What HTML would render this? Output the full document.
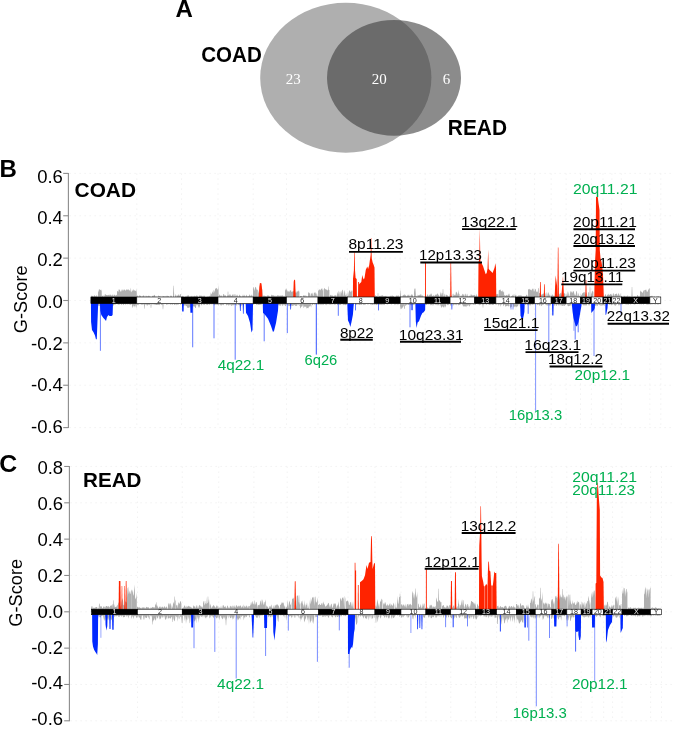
<!DOCTYPE html>
<html><head><meta charset="utf-8"><style>
html,body{margin:0;padding:0;background:#fff;}
body{width:685px;height:731px;overflow:hidden;}
svg{display:block;font-family:"Liberation Sans", sans-serif;transform:translateZ(0);}
</style></head><body>
<svg width="685" height="731" viewBox="0 0 685 731">

<ellipse cx="345.8" cy="77.8" rx="85.6" ry="75" fill="#afafaf"/>
<ellipse cx="394" cy="77.8" rx="67" ry="57.9" fill="#3c3c3c" fill-opacity="0.595"/>
<text x="293.3" y="84" font-size="15" font-family="'Liberation Serif', serif" fill="#fff" text-anchor="middle">23</text>
<text x="379.2" y="84" font-size="15" font-family="'Liberation Serif', serif" fill="#fff" text-anchor="middle">20</text>
<text x="446.5" y="84" font-size="15" font-family="'Liberation Serif', serif" fill="#fff" text-anchor="middle">6</text>
<text x="175.4" y="16.9" font-size="24" font-weight="bold">A</text>
<text x="201.2" y="62.4" font-size="22.2" font-weight="bold" textLength="60.6" lengthAdjust="spacingAndGlyphs">COAD</text>
<text x="447.8" y="134.9" font-size="22.2" font-weight="bold" textLength="59.2" lengthAdjust="spacingAndGlyphs">READ</text>

<line x1="69.4" y1="173.40" x2="672" y2="173.40" stroke="#f0f0f0" stroke-width="0.9" stroke-dasharray="1.5,3.5"/>
<line x1="69.4" y1="215.77" x2="672" y2="215.77" stroke="#f0f0f0" stroke-width="0.9" stroke-dasharray="1.5,3.5"/>
<line x1="69.4" y1="258.13" x2="672" y2="258.13" stroke="#f0f0f0" stroke-width="0.9" stroke-dasharray="1.5,3.5"/>
<line x1="69.4" y1="300.50" x2="672" y2="300.50" stroke="#f0f0f0" stroke-width="0.9" stroke-dasharray="1.5,3.5"/>
<line x1="69.4" y1="342.87" x2="672" y2="342.87" stroke="#f0f0f0" stroke-width="0.9" stroke-dasharray="1.5,3.5"/>
<line x1="69.4" y1="385.23" x2="672" y2="385.23" stroke="#f0f0f0" stroke-width="0.9" stroke-dasharray="1.5,3.5"/>
<line x1="69.4" y1="427.60" x2="672" y2="427.60" stroke="#f0f0f0" stroke-width="0.9" stroke-dasharray="1.5,3.5"/>
<line x1="136.79" y1="173.40" x2="136.79" y2="427.60" stroke="#f0f0f0" stroke-width="0.9" stroke-dasharray="1.5,3.5"/>
<line x1="181.56" y1="173.40" x2="181.56" y2="427.60" stroke="#f0f0f0" stroke-width="0.9" stroke-dasharray="1.5,3.5"/>
<line x1="218.01" y1="173.40" x2="218.01" y2="427.60" stroke="#f0f0f0" stroke-width="0.9" stroke-dasharray="1.5,3.5"/>
<line x1="253.20" y1="173.40" x2="253.20" y2="427.60" stroke="#f0f0f0" stroke-width="0.9" stroke-dasharray="1.5,3.5"/>
<line x1="286.51" y1="173.40" x2="286.51" y2="427.60" stroke="#f0f0f0" stroke-width="0.9" stroke-dasharray="1.5,3.5"/>
<line x1="318.01" y1="173.40" x2="318.01" y2="427.60" stroke="#f0f0f0" stroke-width="0.9" stroke-dasharray="1.5,3.5"/>
<line x1="347.31" y1="173.40" x2="347.31" y2="427.60" stroke="#f0f0f0" stroke-width="0.9" stroke-dasharray="1.5,3.5"/>
<line x1="374.25" y1="173.40" x2="374.25" y2="427.60" stroke="#f0f0f0" stroke-width="0.9" stroke-dasharray="1.5,3.5"/>
<line x1="400.25" y1="173.40" x2="400.25" y2="427.60" stroke="#f0f0f0" stroke-width="0.9" stroke-dasharray="1.5,3.5"/>
<line x1="425.20" y1="173.40" x2="425.20" y2="427.60" stroke="#f0f0f0" stroke-width="0.9" stroke-dasharray="1.5,3.5"/>
<line x1="450.05" y1="173.40" x2="450.05" y2="427.60" stroke="#f0f0f0" stroke-width="0.9" stroke-dasharray="1.5,3.5"/>
<line x1="474.70" y1="173.40" x2="474.70" y2="427.60" stroke="#f0f0f0" stroke-width="0.9" stroke-dasharray="1.5,3.5"/>
<line x1="495.90" y1="173.40" x2="495.90" y2="427.60" stroke="#f0f0f0" stroke-width="0.9" stroke-dasharray="1.5,3.5"/>
<line x1="515.66" y1="173.40" x2="515.66" y2="427.60" stroke="#f0f0f0" stroke-width="0.9" stroke-dasharray="1.5,3.5"/>
<line x1="534.54" y1="173.40" x2="534.54" y2="427.60" stroke="#f0f0f0" stroke-width="0.9" stroke-dasharray="1.5,3.5"/>
<line x1="551.17" y1="173.40" x2="551.17" y2="427.60" stroke="#f0f0f0" stroke-width="0.9" stroke-dasharray="1.5,3.5"/>
<line x1="566.12" y1="173.40" x2="566.12" y2="427.60" stroke="#f0f0f0" stroke-width="0.9" stroke-dasharray="1.5,3.5"/>
<line x1="580.49" y1="173.40" x2="580.49" y2="427.60" stroke="#f0f0f0" stroke-width="0.9" stroke-dasharray="1.5,3.5"/>
<line x1="591.38" y1="173.40" x2="591.38" y2="427.60" stroke="#f0f0f0" stroke-width="0.9" stroke-dasharray="1.5,3.5"/>
<line x1="602.98" y1="173.40" x2="602.98" y2="427.60" stroke="#f0f0f0" stroke-width="0.9" stroke-dasharray="1.5,3.5"/>
<line x1="611.84" y1="173.40" x2="611.84" y2="427.60" stroke="#f0f0f0" stroke-width="0.9" stroke-dasharray="1.5,3.5"/>
<line x1="621.29" y1="173.40" x2="621.29" y2="427.60" stroke="#f0f0f0" stroke-width="0.9" stroke-dasharray="1.5,3.5"/>
<line x1="649.87" y1="173.40" x2="649.87" y2="427.60" stroke="#f0f0f0" stroke-width="0.9" stroke-dasharray="1.5,3.5"/>
<line x1="660.80" y1="173.40" x2="660.80" y2="427.60" stroke="#f0f0f0" stroke-width="0.9" stroke-dasharray="1.5,3.5"/>
<line x1="68.4" y1="172.90" x2="68.4" y2="428.10" stroke="#8c8c8c" stroke-width="1.1"/>
<line x1="63.2" y1="173.40" x2="68.4" y2="173.40" stroke="#8c8c8c" stroke-width="1.1"/>
<text x="62.9" y="182.60" font-size="18.5" text-anchor="end" fill="#000">0.6</text>
<line x1="63.2" y1="215.77" x2="68.4" y2="215.77" stroke="#8c8c8c" stroke-width="1.1"/>
<text x="62.9" y="224.33" font-size="18.5" text-anchor="end" fill="#000">0.4</text>
<line x1="63.2" y1="258.13" x2="68.4" y2="258.13" stroke="#8c8c8c" stroke-width="1.1"/>
<text x="62.9" y="266.06" font-size="18.5" text-anchor="end" fill="#000">0.2</text>
<line x1="63.2" y1="300.50" x2="68.4" y2="300.50" stroke="#8c8c8c" stroke-width="1.1"/>
<text x="62.9" y="307.79" font-size="18.5" text-anchor="end" fill="#000">0.0</text>
<line x1="63.2" y1="342.87" x2="68.4" y2="342.87" stroke="#8c8c8c" stroke-width="1.1"/>
<text x="62.9" y="349.52" font-size="18.5" text-anchor="end" fill="#000">-0.2</text>
<line x1="63.2" y1="385.23" x2="68.4" y2="385.23" stroke="#8c8c8c" stroke-width="1.1"/>
<text x="62.9" y="391.25" font-size="18.5" text-anchor="end" fill="#000">-0.4</text>
<line x1="63.2" y1="427.60" x2="68.4" y2="427.60" stroke="#8c8c8c" stroke-width="1.1"/>
<text x="62.9" y="432.98" font-size="18.5" text-anchor="end" fill="#000">-0.6</text>
<path d="M91.00,300.4 L91.00,296.86 L91.60,295.59 L92.20,296.06 L92.80,295.78 L93.40,296.88 L94.00,295.47 L94.60,295.14 L95.20,296.16 L95.80,296.62 L96.40,294.86 L97.00,297.23 L97.60,295.31 L97.60,300.4 Z" fill="#afafaf"/>
<path d="M98.00,300.4 L98.00,289.02 L98.60,292.42 L99.20,289.37 L99.80,289.89 L100.40,290.09 L101.00,290.18 L101.60,290.70 L101.60,300.4 Z" fill="#afafaf"/>
<path d="M102.00,300.4 L102.00,296.18 L102.60,295.74 L103.20,295.00 L103.80,297.24 L104.40,296.10 L105.00,294.08 L105.60,294.46 L106.20,294.96 L106.80,294.97 L107.40,295.28 L108.00,294.88 L108.60,294.65 L109.20,295.60 L109.80,294.39 L110.40,294.75 L111.00,294.77 L111.60,295.66 L112.20,295.51 L112.80,294.35 L113.40,296.57 L114.00,294.15 L114.60,295.00 L115.20,295.33 L115.80,295.80 L116.40,295.11 L117.00,294.85 L117.00,300.4 Z" fill="#afafaf"/>
<path d="M117.00,300.4 L117.00,291.48 L117.60,290.83 L118.20,292.35 L118.80,289.13 L119.40,289.59 L120.00,290.33 L120.60,291.77 L121.20,291.57 L121.80,289.39 L122.40,289.48 L123.00,291.17 L123.60,289.69 L124.20,289.24 L124.80,290.09 L125.40,290.43 L126.00,290.55 L126.60,289.08 L127.20,290.29 L127.80,289.15 L128.40,289.23 L129.00,290.43 L129.60,290.12 L130.20,291.83 L130.80,287.45 L131.40,292.49 L132.00,291.29 L132.60,290.56 L133.20,288.90 L133.80,290.77 L134.40,290.01 L135.00,290.99 L135.60,291.12 L136.20,289.17 L136.80,292.38 L136.80,300.4 Z" fill="#afafaf"/>
<path d="M137.00,300.4 L137.00,295.83 L137.60,295.54 L138.20,295.63 L138.80,297.22 L139.40,295.30 L140.00,295.37 L140.60,296.11 L141.20,295.97 L141.80,297.29 L142.40,296.50 L143.00,295.59 L143.60,295.54 L144.20,295.84 L144.80,297.37 L145.40,296.67 L146.00,295.24 L146.60,296.48 L147.20,295.98 L147.80,296.68 L148.40,295.71 L149.00,295.38 L149.60,296.33 L150.20,296.83 L150.80,296.46 L151.40,297.36 L152.00,296.38 L152.60,295.50 L153.20,296.42 L153.80,295.26 L154.40,294.72 L155.00,295.61 L155.60,297.27 L156.20,296.32 L156.80,297.30 L157.40,296.74 L158.00,296.70 L158.60,295.32 L159.20,296.36 L159.80,296.01 L160.40,296.94 L161.00,295.54 L161.60,297.18 L162.20,296.99 L162.80,295.85 L163.40,296.37 L164.00,295.97 L164.60,296.42 L165.20,297.03 L165.80,295.72 L166.40,296.64 L167.00,295.24 L167.60,296.24 L168.20,295.88 L168.80,296.14 L169.40,297.11 L170.00,297.20 L170.60,295.47 L171.20,295.64 L171.80,295.82 L171.80,300.4 Z" fill="#afafaf"/>
<path d="M175.00,300.4 L175.00,294.07 L175.60,295.04 L176.20,297.38 L176.80,295.09 L177.40,295.44 L178.00,295.83 L178.60,294.26 L179.20,294.87 L179.80,296.16 L180.40,294.04 L181.00,294.05 L181.00,300.4 Z" fill="#afafaf"/>
<path d="M182.00,300.4 L182.00,296.41 L182.60,295.78 L183.20,295.99 L183.80,297.10 L184.40,297.18 L185.00,297.06 L185.60,296.20 L186.20,296.89 L186.80,295.82 L187.40,295.91 L188.00,294.71 L188.60,295.44 L189.20,296.84 L189.80,296.44 L190.40,296.74 L191.00,295.80 L191.60,295.97 L192.20,297.10 L192.80,295.73 L193.40,296.43 L194.00,296.14 L194.60,295.54 L195.20,296.59 L195.80,296.01 L196.40,295.65 L197.00,295.25 L197.60,296.21 L198.20,296.82 L198.80,297.17 L199.40,295.59 L200.00,295.41 L200.60,295.71 L201.20,295.91 L201.80,295.47 L202.40,296.10 L203.00,297.09 L203.60,295.79 L204.20,295.50 L204.80,296.28 L205.40,297.25 L206.00,296.77 L206.60,297.10 L207.20,296.88 L207.80,296.27 L208.40,297.03 L209.00,295.96 L209.00,300.4 Z" fill="#afafaf"/>
<path d="M209.00,300.4 L209.00,295.61 L209.60,296.21 L210.20,296.50 L210.80,292.34 L211.40,293.69 L212.00,294.49 L212.00,300.4 Z" fill="#afafaf"/>
<path d="M212.00,300.4 L212.00,291.05 L212.60,292.31 L213.20,293.15 L213.80,289.74 L214.40,290.75 L215.00,292.86 L215.00,300.4 Z" fill="#afafaf"/>
<path d="M215.00,300.4 L215.00,288.75 L215.60,288.72 L216.20,287.82 L216.80,288.43 L217.40,288.96 L218.00,290.21 L218.60,284.62 L218.60,300.4 Z" fill="#afafaf"/>
<path d="M219.00,300.4 L219.00,295.49 L219.60,294.24 L220.20,295.32 L220.80,296.38 L221.40,294.99 L222.00,296.76 L222.60,296.78 L223.20,294.17 L223.80,294.11 L224.40,294.92 L225.00,296.26 L225.60,294.73 L226.20,296.36 L226.80,297.11 L227.40,295.52 L228.00,295.29 L228.60,295.35 L229.20,295.47 L229.80,294.07 L230.40,294.45 L231.00,295.91 L231.60,296.00 L232.20,294.63 L232.80,294.43 L233.40,294.16 L234.00,297.38 L234.60,294.28 L235.20,294.11 L235.80,296.87 L236.40,294.60 L237.00,296.80 L237.60,294.15 L238.20,296.65 L238.80,296.56 L239.40,294.55 L240.00,295.18 L240.60,296.35 L241.20,296.60 L241.80,296.66 L242.40,296.27 L243.00,294.13 L243.60,295.95 L244.20,296.28 L244.80,294.41 L245.40,296.73 L246.00,296.27 L246.60,294.62 L247.20,295.98 L247.80,296.78 L248.40,296.16 L249.00,295.73 L249.60,294.16 L250.20,295.14 L250.80,296.38 L251.40,294.28 L252.00,296.14 L252.60,294.70 L252.60,300.4 Z" fill="#afafaf"/>
<path d="M253.00,300.4 L253.00,287.77 L253.60,286.85 L254.20,290.92 L254.80,288.85 L255.40,286.75 L256.00,287.36 L256.60,289.68 L257.20,289.56 L257.80,290.37 L257.80,300.4 Z" fill="#afafaf"/>
<path d="M258.00,300.4 L258.00,293.65 L258.60,289.99 L259.20,294.43 L259.80,294.87 L260.40,289.62 L261.00,291.20 L261.60,293.29 L262.20,288.87 L262.80,296.90 L262.80,300.4 Z" fill="#afafaf"/>
<path d="M263.00,300.4 L263.00,296.82 L263.60,295.35 L264.20,296.29 L264.80,295.18 L265.40,296.20 L266.00,295.96 L266.60,296.78 L267.20,294.83 L267.80,296.32 L268.40,295.40 L269.00,295.58 L269.60,296.62 L270.20,296.76 L270.80,296.92 L271.40,294.68 L272.00,294.66 L272.60,295.45 L273.20,295.28 L273.80,295.49 L274.40,296.57 L275.00,294.89 L275.60,296.52 L276.20,296.45 L276.80,295.70 L277.40,295.00 L278.00,295.98 L278.60,295.16 L279.20,295.64 L279.80,295.75 L280.40,295.62 L281.00,295.74 L281.60,295.48 L282.20,295.76 L282.80,294.91 L283.40,296.99 L284.00,295.24 L284.60,297.23 L285.20,294.75 L285.80,296.08 L285.80,300.4 Z" fill="#afafaf"/>
<path d="M285.00,300.4 L285.00,288.31 L285.60,290.72 L286.20,288.24 L286.80,290.34 L287.40,290.40 L288.00,292.26 L288.60,290.80 L289.20,292.18 L289.80,290.40 L290.40,290.56 L291.00,290.23 L291.60,292.30 L292.20,291.64 L292.80,291.20 L293.40,291.19 L294.00,290.97 L294.60,290.38 L295.20,291.42 L295.80,293.34 L296.40,292.53 L297.00,290.84 L297.60,292.09 L298.20,290.32 L298.80,291.62 L299.40,291.49 L299.40,300.4 Z" fill="#afafaf"/>
<path d="M300.00,300.4 L300.00,296.05 L300.60,295.90 L301.20,295.92 L301.80,296.33 L302.40,297.29 L303.00,296.12 L303.60,295.16 L304.20,295.06 L304.80,296.34 L305.40,295.02 L306.00,297.18 L306.60,295.41 L307.20,296.43 L307.80,296.33 L307.80,300.4 Z" fill="#afafaf"/>
<path d="M308.00,300.4 L308.00,293.83 L308.60,291.92 L309.20,292.72 L309.80,293.18 L310.40,296.95 L311.00,292.81 L311.60,293.92 L312.20,292.39 L312.80,294.42 L313.40,296.59 L314.00,292.27 L314.60,292.99 L315.20,291.94 L315.80,293.74 L316.40,293.28 L317.00,296.42 L317.60,294.06 L317.60,300.4 Z" fill="#afafaf"/>
<path d="M318.00,300.4 L318.00,290.96 L318.60,290.21 L319.20,289.56 L319.80,289.60 L320.40,290.54 L321.00,288.79 L321.60,288.85 L322.20,288.18 L322.80,290.69 L323.40,288.64 L323.40,300.4 Z" fill="#afafaf"/>
<path d="M324.00,300.4 L324.00,287.82 L324.60,288.49 L325.20,289.07 L325.80,289.59 L326.40,289.74 L327.00,289.39 L327.60,290.67 L328.20,289.48 L328.80,290.07 L329.40,290.07 L329.40,300.4 Z" fill="#afafaf"/>
<path d="M330.00,300.4 L330.00,294.82 L330.60,295.11 L331.20,296.33 L331.80,294.83 L332.40,295.53 L333.00,295.92 L333.60,296.84 L334.20,294.74 L334.80,296.48 L335.40,294.82 L336.00,295.88 L336.60,295.03 L336.60,300.4 Z" fill="#afafaf"/>
<path d="M337.00,300.4 L337.00,295.15 L337.60,291.63 L338.20,294.69 L338.80,290.57 L339.40,292.48 L340.00,297.26 L340.60,291.95 L341.20,290.65 L341.80,293.83 L342.40,289.48 L343.00,290.17 L343.60,296.65 L344.20,292.53 L344.80,289.73 L345.40,295.25 L346.00,295.55 L346.60,292.84 L346.60,300.4 Z" fill="#afafaf"/>
<path d="M347.00,300.4 L347.00,290.26 L347.60,296.87 L348.20,295.15 L348.80,291.95 L349.40,290.62 L350.00,290.25 L350.60,292.25 L351.20,291.75 L351.80,290.17 L352.40,290.66 L352.40,300.4 Z" fill="#afafaf"/>
<path d="M375.00,300.4 L375.00,295.33 L375.60,295.38 L376.20,295.89 L376.80,296.00 L377.40,296.71 L378.00,296.64 L378.60,297.24 L379.20,295.68 L379.80,296.03 L380.40,296.07 L381.00,295.56 L381.60,295.77 L382.20,295.26 L382.80,295.60 L383.40,295.92 L384.00,296.43 L384.60,296.10 L385.20,295.89 L385.80,295.80 L386.40,296.75 L387.00,295.51 L387.60,296.92 L388.20,297.17 L388.80,295.92 L389.40,296.39 L390.00,296.48 L390.60,295.57 L391.20,296.55 L391.80,295.56 L392.40,295.48 L393.00,295.97 L393.60,295.88 L394.20,296.78 L394.80,297.11 L395.40,297.24 L396.00,295.72 L396.60,295.52 L397.20,295.98 L397.80,295.62 L398.40,295.25 L399.00,296.71 L399.60,296.12 L399.60,300.4 Z" fill="#afafaf"/>
<path d="M400.00,300.4 L400.00,294.77 L400.60,296.39 L401.20,296.34 L401.80,296.77 L402.40,296.51 L403.00,294.74 L403.60,295.52 L404.20,294.09 L404.80,295.30 L405.40,294.70 L406.00,295.95 L406.60,296.81 L407.20,294.44 L407.80,295.88 L408.40,295.23 L409.00,294.32 L409.60,295.91 L410.20,296.88 L410.80,294.89 L411.40,294.50 L412.00,294.40 L412.60,294.69 L413.20,296.76 L413.80,296.50 L413.80,300.4 Z" fill="#afafaf"/>
<path d="M414.00,300.4 L414.00,292.52 L414.60,288.83 L415.20,288.63 L415.80,296.34 L415.80,300.4 Z" fill="#afafaf"/>
<path d="M416.00,300.4 L416.00,295.15 L416.60,296.49 L417.20,297.03 L417.80,294.54 L418.40,295.29 L419.00,295.39 L419.60,294.67 L420.20,294.95 L420.80,294.02 L421.40,294.76 L422.00,296.74 L422.60,294.96 L423.20,296.04 L423.80,297.16 L424.40,296.23 L424.40,300.4 Z" fill="#afafaf"/>
<path d="M425.00,300.4 L425.00,294.94 L425.60,294.17 L426.20,296.91 L426.80,295.86 L427.40,294.51 L428.00,294.28 L428.60,296.87 L429.20,295.14 L429.80,294.45 L430.40,294.70 L431.00,293.25 L431.60,294.12 L432.20,296.13 L432.80,295.84 L433.40,294.79 L434.00,296.74 L434.60,295.96 L435.20,294.23 L435.80,295.26 L436.40,294.78 L437.00,294.07 L437.60,293.32 L438.20,294.60 L438.80,295.14 L439.40,295.94 L439.40,300.4 Z" fill="#afafaf"/>
<path d="M440.00,300.4 L440.00,295.55 L440.60,291.47 L441.20,295.33 L441.80,292.78 L442.40,292.98 L443.00,295.35 L443.60,296.71 L444.20,295.76 L444.80,293.61 L445.40,295.37 L445.40,300.4 Z" fill="#afafaf"/>
<path d="M446.00,300.4 L446.00,295.21 L446.60,294.44 L447.20,295.32 L447.80,295.60 L448.40,296.72 L449.00,296.23 L449.60,294.07 L449.60,300.4 Z" fill="#afafaf"/>
<path d="M450.00,300.4 L450.00,294.86 L450.60,297.06 L451.20,296.09 L451.80,295.35 L452.40,293.52 L452.40,300.4 Z" fill="#afafaf"/>
<path d="M453.00,300.4 L453.00,297.04 L453.60,293.27 L454.20,295.41 L454.80,294.55 L455.40,295.32 L456.00,291.45 L456.60,292.27 L457.20,293.13 L457.80,295.52 L458.40,289.80 L459.00,294.84 L459.60,293.48 L459.60,300.4 Z" fill="#afafaf"/>
<path d="M460.00,300.4 L460.00,296.75 L460.60,295.70 L461.20,295.01 L461.80,296.62 L462.40,293.93 L463.00,293.64 L463.60,294.96 L464.20,294.19 L464.80,297.25 L465.40,293.93 L466.00,293.62 L466.60,296.72 L467.20,293.55 L467.80,296.05 L468.40,296.81 L469.00,295.51 L469.60,295.68 L470.20,296.28 L470.80,294.24 L471.40,294.74 L472.00,294.71 L472.60,295.60 L473.20,295.34 L473.80,295.25 L474.40,295.07 L475.00,295.18 L475.60,296.67 L476.20,293.74 L476.80,295.71 L477.40,295.85 L477.40,300.4 Z" fill="#afafaf"/>
<path d="M496.00,300.4 L496.00,294.76 L496.60,294.01 L497.20,294.50 L497.80,293.74 L498.40,294.50 L498.40,300.4 Z" fill="#afafaf"/>
<path d="M498.70,300.4 L498.70,290.83 L499.30,289.89 L499.90,289.78 L500.50,289.60 L501.10,291.60 L501.70,290.89 L502.30,291.73 L502.90,290.08 L503.50,292.58 L504.10,291.80 L504.10,300.4 Z" fill="#afafaf"/>
<path d="M504.20,300.4 L504.20,295.21 L504.80,294.68 L505.40,296.01 L506.00,295.16 L506.60,294.66 L507.20,296.05 L507.80,294.76 L508.40,294.67 L509.00,293.36 L509.60,294.75 L510.20,297.15 L510.80,296.98 L511.40,295.88 L512.00,296.46 L512.60,294.43 L513.20,296.47 L513.80,294.28 L514.40,294.49 L514.40,300.4 Z" fill="#afafaf"/>
<path d="M515.00,300.4 L515.00,296.13 L515.60,294.72 L516.20,295.06 L516.80,297.39 L517.40,296.36 L518.00,295.87 L518.60,295.60 L519.20,294.98 L519.80,296.09 L520.40,294.86 L521.00,296.76 L521.60,295.11 L522.20,296.55 L522.80,296.14 L523.40,296.61 L524.00,295.98 L524.60,296.71 L525.20,295.90 L525.80,296.48 L526.40,294.78 L527.00,294.76 L527.60,296.40 L527.60,300.4 Z" fill="#afafaf"/>
<path d="M528.00,300.4 L528.00,289.34 L528.60,289.56 L529.20,288.83 L529.80,289.51 L530.40,289.88 L531.00,289.33 L531.60,290.87 L532.20,289.15 L532.80,288.44 L533.40,288.82 L534.00,291.95 L534.60,290.53 L535.20,288.86 L535.80,289.48 L536.40,292.25 L537.00,291.19 L537.60,292.50 L538.20,288.59 L538.80,287.77 L538.80,300.4 Z" fill="#afafaf"/>
<path d="M539.00,300.4 L539.00,293.28 L539.60,292.90 L540.20,293.02 L540.80,293.42 L541.40,294.73 L542.00,294.81 L542.60,294.06 L543.20,293.54 L543.80,293.40 L544.40,295.97 L545.00,297.15 L545.60,293.76 L546.20,291.93 L546.80,296.98 L547.40,295.26 L548.00,292.19 L548.60,292.70 L549.20,295.68 L549.80,294.34 L550.40,295.18 L550.40,300.4 Z" fill="#afafaf"/>
<path d="M551.00,300.4 L551.00,295.70 L551.60,295.79 L552.20,294.02 L552.80,295.46 L553.40,295.89 L554.00,295.25 L554.60,296.38 L555.20,294.63 L555.80,293.25 L556.40,294.23 L557.00,293.39 L557.60,295.44 L558.20,297.37 L558.80,296.82 L559.40,293.78 L560.00,293.78 L560.60,293.07 L561.20,292.45 L561.80,294.97 L562.40,294.59 L563.00,292.58 L563.60,295.56 L564.20,293.46 L564.80,293.04 L565.40,294.41 L565.40,300.4 Z" fill="#afafaf"/>
<path d="M566.00,300.4 L566.00,293.47 L566.60,296.79 L567.20,290.80 L567.80,295.79 L568.40,291.20 L569.00,296.84 L569.60,295.77 L570.20,292.55 L570.80,290.80 L571.40,292.63 L572.00,290.78 L572.60,293.15 L573.20,291.18 L573.80,291.21 L574.40,294.37 L575.00,295.00 L575.60,295.50 L576.20,291.46 L576.80,290.67 L577.40,295.12 L578.00,296.41 L578.60,292.60 L579.20,296.16 L579.80,295.93 L580.40,293.45 L580.40,300.4 Z" fill="#afafaf"/>
<path d="M581.00,300.4 L581.00,294.24 L581.60,295.63 L582.20,293.17 L582.80,293.30 L583.40,292.41 L584.00,292.18 L584.60,291.91 L585.20,295.72 L585.80,292.45 L586.40,292.78 L587.00,296.54 L587.60,296.83 L588.20,291.90 L588.80,292.44 L588.80,300.4 Z" fill="#afafaf"/>
<path d="M591.00,300.4 L591.00,290.67 L591.60,294.42 L592.20,291.46 L592.80,290.60 L593.40,292.37 L593.40,300.4 Z" fill="#afafaf"/>
<path d="M604.00,300.4 L604.00,296.94 L604.60,296.25 L605.20,294.01 L605.80,294.82 L606.40,297.12 L607.00,295.15 L607.60,294.46 L608.20,294.90 L608.80,293.39 L609.40,295.14 L610.00,294.59 L610.60,293.66 L611.20,294.61 L611.80,294.57 L612.40,296.77 L613.00,293.43 L613.60,293.27 L614.20,296.49 L614.80,294.32 L615.40,293.98 L616.00,294.18 L616.60,293.24 L617.20,294.53 L617.80,296.12 L618.40,292.69 L619.00,294.29 L619.60,296.02 L620.20,293.01 L620.80,296.42 L620.80,300.4 Z" fill="#afafaf"/>
<path d="M621.00,300.4 L621.00,296.23 L621.60,295.43 L622.20,296.44 L622.80,296.79 L623.40,296.80 L624.00,295.23 L624.60,296.29 L625.20,295.71 L625.80,297.05 L626.40,295.84 L627.00,297.06 L627.60,295.28 L628.20,295.83 L628.80,297.19 L629.40,296.10 L630.00,296.72 L630.60,296.37 L630.60,300.4 Z" fill="#afafaf"/>
<path d="M633.00,300.4 L633.00,296.29 L633.60,296.92 L634.20,296.85 L634.80,296.26 L635.40,296.18 L636.00,297.13 L636.60,296.72 L637.20,295.17 L637.80,294.94 L638.40,296.95 L639.00,295.25 L639.60,296.59 L639.60,300.4 Z" fill="#afafaf"/>
<path d="M640.00,300.4 L640.00,290.32 L640.60,291.13 L641.20,292.31 L641.80,291.15 L642.40,293.24 L643.00,291.97 L643.60,290.44 L644.20,290.24 L644.80,290.12 L644.80,300.4 Z" fill="#afafaf"/>
<path d="M645.00,300.4 L645.00,290.14 L645.60,289.70 L646.20,289.47 L646.80,291.87 L647.40,292.02 L648.00,290.54 L648.60,289.59 L649.20,288.01 L649.80,289.25 L649.80,300.4 Z" fill="#afafaf"/>
<path d="M650.00,300.4 L650.00,296.34 L650.60,296.13 L651.20,295.86 L651.80,296.07 L652.40,295.83 L653.00,297.06 L653.60,296.85 L654.20,295.96 L654.80,296.85 L655.40,297.17 L656.00,296.95 L656.60,296.15 L657.20,296.64 L657.80,295.97 L658.40,296.21 L659.00,296.31 L659.60,297.00 L660.20,296.92 L660.80,296.00 L660.80,300.4 Z" fill="#afafaf"/>
<path d="M172.90,300.4 L172.90,300.40 L173.40,285.70 L173.80,285.70 L174.30,300.40 L174.30,300.4 Z" fill="#afafaf"/>
<path d="M227.30,300.4 L227.30,300.40 L227.80,291.50 L228.20,291.50 L228.70,300.40 L228.70,300.4 Z" fill="#afafaf"/>
<path d="M377.30,300.4 L377.30,300.40 L377.80,293.00 L378.20,293.00 L378.70,300.40 L378.70,300.4 Z" fill="#afafaf"/>
<path d="M399.80,300.4 L399.80,300.40 L400.30,290.40 L400.70,290.40 L401.20,300.40 L401.20,300.4 Z" fill="#afafaf"/>
<path d="M414.30,300.4 L414.30,300.40 L414.80,288.30 L415.20,288.30 L415.70,300.40 L415.70,300.4 Z" fill="#afafaf"/>
<path d="M442.30,300.4 L442.30,300.40 L442.80,289.00 L443.20,289.00 L443.70,300.40 L443.70,300.4 Z" fill="#afafaf"/>
<path d="M631.30,300.4 L631.30,300.40 L631.80,287.00 L632.20,287.00 L632.70,300.40 L632.70,300.4 Z" fill="#afafaf"/>
<path d="M589.30,300.4 L589.30,300.40 L589.80,286.50 L590.20,286.50 L590.70,300.40 L590.70,300.4 Z" fill="#afafaf"/>
<path d="M327.70,300.4 L327.70,300.40 L328.20,286.60 L328.60,286.60 L329.10,300.40 L329.10,300.4 Z" fill="#afafaf"/>
<path d="M98.80,300.4 L98.80,300.40 L99.30,289.00 L99.70,289.00 L100.20,300.40 L100.20,300.4 Z" fill="#afafaf"/>
<path d="M100.30,300.4 L100.30,300.40 L100.80,289.50 L101.20,289.50 L101.70,300.40 L101.70,300.4 Z" fill="#afafaf"/>
<path d="M98.00,300.4 L98.00,304.18 L98.60,305.89 L99.20,305.80 L99.80,305.96 L99.80,300.4 Z" fill="#afafaf"/>
<path d="M113.00,300.4 L113.00,305.05 L113.60,305.76 L114.20,304.82 L114.80,304.22 L115.40,304.41 L116.00,304.22 L116.60,303.78 L117.20,303.84 L117.80,304.60 L118.40,304.50 L119.00,304.68 L119.60,304.74 L119.60,300.4 Z" fill="#afafaf"/>
<path d="M120.00,300.4 L120.00,303.88 L120.60,303.93 L121.20,304.70 L121.80,304.71 L122.40,303.60 L123.00,304.72 L123.60,305.08 L124.20,304.33 L124.80,303.84 L125.40,304.82 L126.00,304.44 L126.60,304.04 L127.20,303.88 L127.80,304.73 L128.40,304.09 L129.00,304.25 L129.60,304.55 L130.20,304.42 L130.80,305.12 L131.40,304.01 L132.00,304.73 L132.00,300.4 Z" fill="#afafaf"/>
<path d="M132.00,300.4 L132.00,308.05 L132.60,307.14 L133.20,305.01 L133.80,306.71 L134.40,305.80 L135.00,307.68 L135.60,304.22 L136.20,308.56 L136.80,305.06 L136.80,300.4 Z" fill="#afafaf"/>
<path d="M137.00,300.4 L137.00,305.19 L137.60,304.88 L138.20,304.25 L138.80,305.38 L139.40,303.93 L140.00,303.81 L140.60,304.25 L141.20,305.06 L141.80,304.35 L142.40,304.72 L143.00,304.39 L143.60,304.59 L144.20,303.95 L144.80,303.77 L145.40,304.98 L146.00,304.10 L146.60,305.14 L147.20,305.23 L147.80,305.44 L148.40,304.79 L149.00,304.61 L149.60,305.13 L150.20,303.95 L150.80,303.59 L151.40,303.88 L152.00,304.72 L152.60,304.02 L153.20,304.99 L153.80,303.69 L154.40,304.86 L155.00,304.61 L155.60,304.86 L156.20,305.03 L156.80,305.05 L157.40,305.03 L158.00,304.57 L158.60,304.97 L159.20,305.13 L159.80,304.51 L160.40,303.75 L161.00,304.67 L161.60,304.71 L162.20,304.63 L162.80,304.74 L163.40,303.48 L164.00,304.02 L164.60,304.25 L165.20,303.73 L165.80,304.06 L166.40,304.97 L167.00,304.15 L167.60,304.54 L168.20,304.58 L168.80,303.99 L169.40,303.69 L170.00,304.63 L170.60,304.61 L171.20,304.52 L171.80,304.03 L172.40,304.94 L173.00,304.15 L173.60,303.85 L174.20,304.94 L174.80,304.73 L175.40,304.63 L176.00,303.56 L176.60,305.51 L177.20,303.95 L177.80,304.97 L178.40,304.81 L179.00,303.48 L179.60,303.81 L180.20,304.52 L180.80,304.99 L180.80,300.4 Z" fill="#afafaf"/>
<path d="M182.00,300.4 L182.00,307.70 L182.60,307.40 L183.20,305.49 L183.80,305.59 L184.40,305.65 L185.00,304.64 L185.60,305.67 L186.20,306.01 L186.80,306.14 L187.40,307.85 L188.00,308.07 L188.60,307.98 L189.20,306.41 L189.80,307.88 L190.40,306.79 L191.00,307.51 L191.60,307.71 L192.20,308.03 L192.80,305.85 L193.40,306.32 L194.00,306.80 L194.60,306.37 L195.20,307.99 L195.80,307.89 L196.40,304.50 L197.00,305.39 L197.60,304.51 L198.20,306.23 L198.80,307.67 L199.40,307.43 L200.00,305.25 L200.00,300.4 Z" fill="#afafaf"/>
<path d="M200.00,300.4 L200.00,304.85 L200.60,303.51 L201.20,305.40 L201.80,304.98 L202.40,303.97 L203.00,304.31 L203.60,304.77 L204.20,304.90 L204.80,304.51 L205.40,304.14 L206.00,303.70 L206.60,304.99 L207.20,304.68 L207.80,304.89 L208.40,303.96 L209.00,304.44 L209.60,304.70 L210.20,304.41 L210.80,303.87 L211.40,304.09 L212.00,305.10 L212.60,303.84 L213.20,303.85 L213.80,305.18 L214.40,305.18 L215.00,304.46 L215.60,304.76 L216.20,304.57 L216.80,304.79 L217.40,304.77 L218.00,304.68 L218.00,300.4 Z" fill="#afafaf"/>
<path d="M218.00,300.4 L218.00,304.31 L218.60,305.77 L219.20,304.85 L219.80,304.00 L220.40,305.38 L221.00,305.08 L221.60,305.66 L222.20,304.47 L222.80,305.07 L223.40,305.35 L224.00,304.61 L224.60,304.07 L225.20,304.05 L225.80,304.30 L226.40,305.57 L227.00,305.11 L227.60,304.42 L228.20,305.43 L228.80,305.34 L229.40,305.33 L230.00,304.27 L230.60,305.11 L231.20,305.65 L231.80,305.77 L232.40,305.25 L233.00,304.88 L233.60,305.60 L234.20,304.54 L234.80,305.11 L235.40,304.88 L236.00,305.35 L236.60,305.71 L237.20,303.52 L237.80,305.36 L238.40,305.12 L239.00,304.64 L239.60,305.23 L240.20,305.67 L240.80,305.58 L241.40,305.64 L242.00,304.70 L242.60,304.77 L243.20,305.78 L243.80,304.74 L244.40,303.98 L245.00,304.20 L245.60,304.67 L245.60,300.4 Z" fill="#afafaf"/>
<path d="M253.00,300.4 L253.00,303.84 L253.60,305.08 L254.20,304.15 L254.80,303.72 L255.40,304.00 L256.00,303.98 L256.60,305.15 L257.20,303.77 L257.80,305.23 L258.40,304.73 L259.00,305.10 L259.60,304.87 L260.20,304.45 L260.80,304.87 L261.40,305.17 L261.40,300.4 Z" fill="#afafaf"/>
<path d="M278.00,300.4 L278.00,304.63 L278.60,305.36 L279.20,305.25 L279.80,305.40 L280.40,305.94 L281.00,304.61 L281.60,304.25 L282.20,306.14 L282.80,305.28 L283.40,304.28 L284.00,305.80 L284.60,304.14 L285.20,306.37 L285.80,305.65 L286.40,305.04 L287.00,303.72 L287.60,304.97 L288.20,305.20 L288.80,306.21 L289.40,305.92 L290.00,305.61 L290.60,306.21 L291.20,305.15 L291.80,305.66 L292.40,305.92 L293.00,305.19 L293.60,305.86 L294.20,304.97 L294.80,305.23 L295.40,306.08 L296.00,305.44 L296.60,305.99 L297.20,305.50 L297.80,303.95 L298.40,304.57 L299.00,305.43 L299.60,306.24 L299.60,300.4 Z" fill="#afafaf"/>
<path d="M300.00,300.4 L300.00,308.44 L300.60,308.01 L301.20,306.57 L301.80,306.85 L302.40,306.27 L303.00,303.96 L303.60,308.36 L304.20,307.24 L304.80,306.31 L305.40,307.36 L306.00,306.00 L306.60,308.67 L307.20,307.83 L307.80,308.35 L308.40,308.25 L309.00,306.24 L309.60,306.43 L310.20,306.63 L310.80,304.90 L311.40,308.02 L311.40,300.4 Z" fill="#afafaf"/>
<path d="M312.00,300.4 L312.00,305.01 L312.60,305.17 L313.20,304.36 L313.80,303.93 L314.40,304.41 L315.00,304.79 L315.60,304.34 L316.20,304.04 L316.80,305.11 L317.40,304.98 L317.40,300.4 Z" fill="#afafaf"/>
<path d="M318.00,300.4 L318.00,304.50 L318.60,304.72 L319.20,305.11 L319.80,303.92 L320.40,304.46 L321.00,305.19 L321.60,304.48 L322.20,304.05 L322.80,305.14 L323.40,304.46 L324.00,304.70 L324.60,303.67 L325.20,304.20 L325.80,305.12 L326.40,305.13 L327.00,303.67 L327.60,304.78 L328.20,303.44 L328.80,304.76 L329.40,304.57 L330.00,304.61 L330.60,304.78 L331.20,304.03 L331.80,304.65 L332.40,303.93 L333.00,304.69 L333.60,303.68 L334.20,304.72 L334.80,304.60 L335.40,304.50 L336.00,304.56 L336.60,303.68 L337.20,304.83 L337.80,305.16 L338.40,304.35 L339.00,304.54 L339.60,305.06 L340.20,304.65 L340.80,304.90 L341.40,303.69 L342.00,304.68 L342.60,304.03 L343.20,304.54 L343.80,305.20 L344.40,304.44 L345.00,304.95 L345.60,305.16 L346.20,304.63 L346.80,305.04 L346.80,300.4 Z" fill="#afafaf"/>
<path d="M355.00,300.4 L355.00,303.56 L355.60,305.23 L356.20,304.61 L356.80,305.08 L357.40,304.20 L358.00,304.52 L358.60,304.42 L359.20,304.48 L359.80,305.25 L360.40,304.29 L361.00,304.92 L361.60,304.76 L362.20,303.92 L362.80,304.15 L363.40,305.17 L364.00,303.95 L364.60,305.10 L365.20,305.05 L365.80,303.90 L366.40,303.93 L367.00,303.72 L367.60,304.78 L368.20,303.80 L368.80,304.70 L369.40,303.86 L370.00,303.78 L370.60,304.79 L371.20,305.14 L371.80,304.00 L372.40,305.10 L373.00,304.97 L373.60,304.30 L374.20,304.74 L374.80,304.91 L374.80,300.4 Z" fill="#afafaf"/>
<path d="M375.00,300.4 L375.00,304.08 L375.60,304.78 L376.20,304.72 L376.80,305.22 L377.40,304.18 L378.00,305.02 L378.60,304.26 L379.20,305.21 L379.80,304.47 L380.40,304.91 L381.00,304.19 L381.60,305.07 L382.20,305.13 L382.80,304.06 L383.40,304.99 L384.00,304.25 L384.60,305.21 L385.20,303.76 L385.80,303.85 L386.40,304.10 L387.00,304.56 L387.60,304.50 L388.20,303.86 L388.80,304.25 L389.40,303.72 L390.00,304.03 L390.60,303.73 L391.20,304.91 L391.80,303.79 L392.40,303.70 L393.00,304.12 L393.60,303.65 L394.20,303.49 L394.80,305.21 L395.40,304.48 L396.00,304.12 L396.60,304.43 L397.20,303.57 L397.80,305.24 L398.40,304.54 L399.00,303.81 L399.60,304.43 L399.60,300.4 Z" fill="#afafaf"/>
<path d="M400.00,300.4 L400.00,308.83 L400.60,304.68 L401.20,308.21 L401.80,309.23 L402.40,307.69 L403.00,306.92 L403.60,305.28 L404.20,308.71 L404.80,309.12 L404.80,300.4 Z" fill="#afafaf"/>
<path d="M405.00,300.4 L405.00,305.50 L405.60,305.80 L406.20,305.18 L406.80,304.85 L407.40,304.30 L408.00,305.06 L408.60,305.04 L409.20,304.48 L409.80,304.77 L410.40,305.00 L411.00,305.52 L411.60,305.25 L412.20,304.87 L412.80,304.81 L413.40,304.68 L414.00,305.30 L414.60,304.68 L414.60,300.4 Z" fill="#afafaf"/>
<path d="M425.00,300.4 L425.00,304.29 L425.60,304.67 L426.20,304.69 L426.80,304.94 L427.40,304.56 L428.00,303.62 L428.60,304.75 L429.20,304.64 L429.80,303.47 L430.40,305.17 L431.00,305.16 L431.60,304.85 L432.20,305.71 L432.80,304.11 L433.40,305.65 L434.00,303.57 L434.60,304.52 L435.20,304.34 L435.80,305.00 L436.40,305.28 L437.00,303.47 L437.60,305.63 L438.20,304.51 L438.80,305.55 L439.40,305.18 L439.40,300.4 Z" fill="#afafaf"/>
<path d="M440.00,300.4 L440.00,307.11 L440.60,304.33 L441.20,307.32 L441.80,307.73 L442.40,306.33 L443.00,306.58 L443.60,307.48 L444.20,307.10 L444.80,304.98 L445.40,307.71 L446.00,305.78 L446.60,304.09 L446.60,300.4 Z" fill="#afafaf"/>
<path d="M447.00,300.4 L447.00,305.14 L447.60,304.95 L448.20,305.21 L448.80,304.42 L449.40,304.42 L449.40,300.4 Z" fill="#afafaf"/>
<path d="M450.00,300.4 L450.00,304.92 L450.60,305.73 L451.20,305.07 L451.80,303.85 L452.40,304.25 L453.00,304.49 L453.60,305.71 L454.20,304.48 L454.80,304.41 L455.40,304.89 L456.00,303.93 L456.60,305.61 L457.20,303.86 L457.80,304.78 L458.40,305.48 L459.00,304.75 L459.60,304.98 L460.20,305.30 L460.80,303.61 L461.40,304.41 L461.40,300.4 Z" fill="#afafaf"/>
<path d="M462.00,300.4 L462.00,304.05 L462.60,305.27 L463.20,305.94 L463.80,306.81 L464.40,306.58 L465.00,306.11 L465.60,306.47 L466.20,307.23 L466.80,305.37 L467.40,306.32 L468.00,304.67 L468.60,305.37 L469.20,306.81 L469.80,305.69 L470.40,305.01 L471.00,304.32 L471.60,305.16 L471.60,300.4 Z" fill="#afafaf"/>
<path d="M472.00,300.4 L472.00,304.55 L472.60,304.20 L473.20,304.88 L473.80,304.47 L474.40,304.88 L475.00,303.78 L475.60,305.20 L476.20,304.33 L476.80,303.87 L477.40,304.95 L477.40,300.4 Z" fill="#afafaf"/>
<path d="M478.00,300.4 L478.00,303.63 L478.60,304.38 L479.20,305.54 L479.80,304.59 L480.40,305.04 L481.00,304.26 L481.60,304.26 L482.20,304.43 L482.80,304.68 L483.40,304.22 L484.00,305.12 L484.60,303.87 L485.20,303.52 L485.80,304.65 L486.40,305.03 L487.00,304.27 L487.60,304.01 L488.20,304.58 L488.80,304.22 L489.40,304.93 L490.00,304.81 L490.60,304.79 L491.20,304.51 L491.80,304.56 L492.40,304.91 L493.00,305.00 L493.60,304.77 L494.20,304.26 L494.80,303.70 L495.40,304.65 L496.00,303.97 L496.60,305.06 L497.20,304.29 L497.80,304.58 L497.80,300.4 Z" fill="#afafaf"/>
<path d="M498.00,300.4 L498.00,306.87 L498.60,304.46 L499.20,305.33 L499.80,303.72 L500.40,306.88 L501.00,303.64 L501.60,305.36 L502.20,304.12 L502.80,304.31 L503.40,306.62 L504.00,304.92 L504.60,304.14 L505.20,305.63 L505.80,306.94 L506.40,305.80 L507.00,306.37 L507.60,305.42 L508.20,305.70 L508.80,306.83 L509.40,305.63 L509.40,300.4 Z" fill="#afafaf"/>
<path d="M510.00,300.4 L510.00,307.78 L510.60,307.46 L511.20,307.21 L511.80,306.73 L512.40,303.50 L513.00,304.68 L513.60,307.53 L514.20,307.26 L514.80,306.26 L515.40,306.26 L516.00,307.87 L516.60,306.72 L517.20,306.01 L517.80,306.85 L518.40,304.81 L519.00,304.03 L519.60,306.67 L519.60,300.4 Z" fill="#afafaf"/>
<path d="M525.00,300.4 L525.00,305.03 L525.60,304.79 L526.20,304.83 L526.80,304.06 L527.40,305.14 L528.00,305.24 L528.60,304.58 L529.20,304.64 L529.80,305.47 L530.40,305.30 L531.00,305.15 L531.60,304.11 L532.20,304.67 L532.80,304.72 L533.40,304.69 L534.00,303.57 L534.60,305.20 L534.60,300.4 Z" fill="#afafaf"/>
<path d="M535.00,300.4 L535.00,303.67 L535.60,305.02 L536.20,303.61 L536.80,304.69 L537.40,305.22 L538.00,304.46 L538.60,304.47 L539.20,305.29 L539.80,305.68 L540.40,303.85 L541.00,306.37 L541.60,305.73 L542.20,305.30 L542.80,304.62 L543.40,304.90 L544.00,303.87 L544.60,303.74 L545.20,304.19 L545.80,304.74 L546.40,305.53 L547.00,304.32 L547.60,305.69 L548.20,305.71 L548.80,304.30 L549.40,305.46 L550.00,305.73 L550.60,305.37 L551.20,303.82 L551.80,304.24 L551.80,300.4 Z" fill="#afafaf"/>
<path d="M554.00,300.4 L554.00,306.26 L554.60,305.27 L555.20,303.65 L555.80,305.58 L556.40,305.65 L557.00,305.38 L557.60,304.05 L558.20,304.90 L558.80,305.77 L559.40,304.25 L560.00,306.22 L560.60,304.76 L561.20,304.83 L561.80,306.05 L562.40,305.91 L563.00,305.40 L563.60,305.43 L564.20,305.88 L564.80,305.82 L565.40,304.81 L566.00,304.98 L566.60,303.50 L567.20,304.61 L567.80,305.97 L568.40,306.25 L569.00,306.00 L569.60,305.67 L570.20,305.90 L570.80,304.56 L571.40,306.22 L571.40,300.4 Z" fill="#afafaf"/>
<path d="M582.00,300.4 L582.00,305.06 L582.60,304.37 L583.20,305.62 L583.80,305.15 L584.40,305.50 L585.00,304.99 L585.60,305.44 L586.20,305.43 L586.80,305.34 L587.40,303.99 L588.00,303.80 L588.60,305.34 L589.20,305.70 L589.80,304.29 L590.40,303.88 L590.40,300.4 Z" fill="#afafaf"/>
<path d="M595.00,300.4 L595.00,305.29 L595.60,305.82 L596.20,306.16 L596.80,304.50 L597.40,306.34 L598.00,305.31 L598.60,304.02 L599.20,305.62 L599.80,304.86 L600.40,306.30 L601.00,303.64 L601.60,306.10 L602.20,305.79 L602.80,304.96 L603.40,305.36 L604.00,305.34 L604.60,306.22 L604.60,300.4 Z" fill="#afafaf"/>
<path d="M608.00,300.4 L608.00,304.48 L608.60,303.84 L609.20,304.65 L609.80,304.55 L610.40,303.88 L611.00,305.28 L611.60,305.32 L612.20,304.86 L612.80,304.46 L613.40,304.09 L614.00,305.07 L614.60,305.17 L615.20,305.84 L615.80,305.62 L616.40,304.75 L617.00,304.05 L617.60,303.85 L618.20,304.61 L618.80,305.79 L619.40,304.20 L620.00,305.76 L620.60,304.53 L620.60,300.4 Z" fill="#afafaf"/>
<path d="M621.00,300.4 L621.00,304.08 L621.60,304.57 L622.20,303.95 L622.80,304.63 L623.40,303.50 L624.00,303.89 L624.60,303.77 L625.20,304.07 L625.80,304.45 L626.40,304.51 L627.00,304.31 L627.60,304.46 L628.20,304.48 L628.80,304.63 L629.40,303.80 L630.00,304.23 L630.60,304.48 L631.20,304.35 L631.80,303.74 L632.40,303.93 L633.00,303.78 L633.60,304.16 L634.20,304.46 L634.80,304.55 L635.40,304.26 L636.00,303.97 L636.60,303.62 L637.20,304.28 L637.80,303.91 L638.40,304.07 L639.00,303.74 L639.60,304.47 L640.20,303.67 L640.80,304.46 L641.40,304.43 L642.00,304.05 L642.60,303.90 L643.20,304.43 L643.80,304.42 L644.40,303.67 L645.00,304.05 L645.60,303.60 L646.20,304.17 L646.80,304.45 L647.40,304.42 L648.00,304.62 L648.60,304.60 L649.20,303.93 L649.80,304.51 L650.40,304.59 L651.00,304.15 L651.60,304.18 L652.20,304.50 L652.80,303.89 L653.40,303.97 L654.00,304.20 L654.60,304.16 L655.20,304.35 L655.80,304.40 L656.40,303.95 L657.00,304.16 L657.60,304.41 L658.20,304.13 L658.80,304.43 L659.40,304.12 L660.00,303.61 L660.60,304.63 L660.60,300.4 Z" fill="#afafaf"/>
<path d="M143.70,300.4 L143.70,300.40 L144.30,308.70 L144.70,308.70 L145.30,300.40 L145.30,300.4 Z" fill="#afafaf"/>
<path d="M150.20,300.4 L150.20,300.40 L150.80,308.00 L151.20,308.00 L151.80,300.40 L151.80,300.4 Z" fill="#afafaf"/>
<path d="M162.20,300.4 L162.20,300.40 L162.80,309.20 L163.20,309.20 L163.80,300.40 L163.80,300.4 Z" fill="#afafaf"/>
<path d="M482.20,300.4 L482.20,300.40 L482.80,307.80 L483.20,307.80 L483.80,300.40 L483.80,300.4 Z" fill="#afafaf"/>
<path d="M399.70,300.4 L399.70,300.40 L400.30,309.00 L400.70,309.00 L401.30,300.40 L401.30,300.4 Z" fill="#afafaf"/>
<path d="M443.20,300.4 L443.20,300.40 L443.80,307.50 L444.20,307.50 L444.80,300.40 L444.80,300.4 Z" fill="#afafaf"/>
<path d="M258.60,300.4 L258.60,300.40 L259.30,287.00 L259.90,283.00 L261.40,283.30 L262.10,289.00 L262.50,300.40 L262.50,300.4 Z" fill="#ff2300"/>
<path d="M293.10,300.4 L293.10,300.40 L293.70,282.00 L294.20,279.50 L295.10,280.20 L295.90,300.40 L295.90,300.4 Z" fill="#ff2300"/>
<path d="M352.90,300.4 L352.90,300.40 L353.00,279.00 L353.90,270.00 L354.20,252.20 L354.70,252.20 L355.00,270.00 L355.60,278.00 L356.70,279.00 L356.90,296.50 L358.00,296.50 L358.20,282.00 L359.00,282.00 L359.30,284.50 L359.80,283.40 L361.30,281.90 L362.00,277.00 L362.30,275.10 L363.00,278.10 L363.90,279.60 L364.60,277.40 L365.80,269.80 L367.30,266.40 L368.10,269.10 L369.20,265.30 L369.90,260.00 L370.70,254.80 L370.90,238.00 L371.30,238.00 L371.50,249.50 L371.80,258.50 L372.60,262.30 L373.70,264.90 L374.50,267.60 L374.80,300.40 L374.80,300.4 Z" fill="#ff2300"/>
<line x1="425.5" y1="300.4" x2="425.5" y2="263" stroke="#ff2300" stroke-width="0.9"/>
<path d="M450.20,300.4 L450.20,300.40 L450.50,263.00 L451.10,263.00 L451.60,300.40 L451.60,300.4 Z" fill="#ff2300"/>
<path d="M478.20,300.4 L478.20,300.40 L478.50,262.00 L479.30,259.20 L479.80,227.80 L480.40,262.00 L481.60,263.30 L483.00,266.00 L484.40,270.20 L485.70,274.30 L486.70,272.90 L487.50,268.80 L488.20,249.60 L488.70,268.80 L489.80,270.20 L491.20,271.50 L492.60,272.90 L493.50,270.50 L494.60,267.40 L495.30,263.30 L496.00,267.40 L496.30,300.40 L496.30,300.4 Z" fill="#ff2300"/>
<path d="M539.60,300.4 L539.60,300.40 L540.10,282.10 L540.70,282.10 L541.10,300.40 L541.10,300.4 Z" fill="#ff2300"/>
<path d="M543.70,300.4 L543.70,300.40 L544.10,284.30 L544.70,284.30 L545.10,300.40 L545.10,300.4 Z" fill="#ff2300"/>
<path d="M554.50,300.4 L554.50,300.40 L555.60,275.50 L557.00,285.00 L557.70,300.40 L557.70,300.4 Z" fill="#ff2300"/>
<path d="M557.30,300.4 L557.30,300.40 L557.90,247.60 L558.40,247.60 L559.00,300.40 L559.00,300.4 Z" fill="#ff2300"/>
<path d="M561.00,300.4 L561.00,300.40 L563.00,276.00 L564.20,300.40 L564.20,300.4 Z" fill="#ff2300"/>
<path d="M585.20,300.4 L585.20,300.40 L585.70,279.90 L586.30,279.90 L586.80,300.40 L586.80,300.4 Z" fill="#ff2300"/>
<path d="M594.20,300.4 L594.20,300.40 L594.40,290.00 L595.00,262.00 L595.70,250.00 L596.00,197.00 L597.70,196.60 L598.50,203.00 L599.50,210.00 L599.80,250.00 L600.50,258.00 L601.50,262.00 L602.30,267.00 L603.00,275.00 L603.60,290.00 L603.90,300.40 L603.90,300.4 Z" fill="#ff2300"/>
<path d="M90.90,300.4 L90.90,300.40 L91.10,322.00 L92.00,330.00 L93.50,332.30 L95.00,335.40 L96.00,339.50 L96.80,339.00 L97.40,323.00 L98.00,308.00 L98.50,300.40 L98.50,300.4 Z" fill="#0028ff"/>
<line x1="100.4" y1="300.4" x2="100.4" y2="350.8" stroke="#0028ff" stroke-width="1.0" stroke-opacity="0.6"/>
<path d="M99.80,300.4 L99.80,300.40 L100.30,310.80 L101.30,314.90 L103.40,318.00 L104.90,319.50 L106.00,321.00 L107.00,317.00 L108.50,314.90 L109.50,315.90 L111.60,315.90 L112.60,314.90 L113.10,300.40 L113.10,300.4 Z" fill="#0028ff"/>
<path d="M181.90,300.4 L181.90,300.40 L182.20,311.50 L183.60,311.50 L183.90,300.40 L183.90,300.4 Z" fill="#0028ff"/>
<path d="M190.10,300.4 L190.10,300.40 L190.40,312.80 L192.60,312.80 L192.90,300.40 L192.90,300.4 Z" fill="#0028ff"/>
<line x1="192.7" y1="300.4" x2="192.7" y2="347.3" stroke="#0028ff" stroke-width="0.9" stroke-opacity="0.7"/>
<line x1="214" y1="300.4" x2="214" y2="338.3" stroke="#0028ff" stroke-width="0.9" stroke-opacity="0.7"/>
<line x1="235.2" y1="300.4" x2="235.2" y2="359.7" stroke="#0028ff" stroke-width="0.9" stroke-opacity="0.7"/>
<path d="M239.60,300.4 L239.60,300.40 L240.00,311.00 L240.60,311.00 L241.00,300.40 L241.00,300.4 Z" fill="#0028ff"/>
<path d="M242.60,300.4 L242.60,300.40 L243.00,313.70 L243.60,313.70 L244.00,300.40 L244.00,300.4 Z" fill="#0028ff"/>
<path d="M245.60,300.4 L245.60,300.40 L246.00,312.80 L248.00,316.00 L250.00,322.70 L251.50,332.50 L252.50,330.00 L253.10,300.40 L253.10,300.4 Z" fill="#0028ff"/>
<path d="M262.70,300.4 L262.70,300.40 L263.00,312.70 L265.00,314.70 L268.00,318.80 L271.00,326.00 L273.00,332.00 L274.00,331.00 L276.00,323.00 L278.00,310.70 L278.50,300.40 L278.50,300.4 Z" fill="#0028ff"/>
<line x1="264.2" y1="300.4" x2="264.2" y2="341.3" stroke="#0028ff" stroke-width="0.9" stroke-opacity="0.7"/>
<line x1="287.3" y1="300.4" x2="287.3" y2="333.1" stroke="#0028ff" stroke-width="0.9" stroke-opacity="0.7"/>
<path d="M290.00,300.4 L290.00,300.40 L290.40,309.60 L291.00,309.60 L291.40,300.40 L291.40,300.4 Z" fill="#0028ff"/>
<line x1="316.3" y1="300.4" x2="316.3" y2="354.6" stroke="#0028ff" stroke-width="1.0" stroke-opacity="0.8"/>
<line x1="338.3" y1="300.4" x2="338.3" y2="315.8" stroke="#0028ff" stroke-width="0.9" stroke-opacity="0.7"/>
<path d="M347.20,300.4 L347.20,300.40 L347.60,312.00 L348.00,320.40 L349.30,323.30 L350.30,326.90 L351.50,321.90 L352.90,314.70 L353.60,306.00 L354.40,300.40 L354.40,300.4 Z" fill="#0028ff"/>
<line x1="355.5" y1="300.4" x2="355.5" y2="310.4" stroke="#0028ff" stroke-width="0.9" stroke-opacity="0.7"/>
<line x1="378.5" y1="300.4" x2="378.5" y2="310.4" stroke="#0028ff" stroke-width="0.9" stroke-opacity="0.7"/>
<line x1="410" y1="300.4" x2="410" y2="327.3" stroke="#0028ff" stroke-width="0.9" stroke-opacity="0.7"/>
<line x1="411.4" y1="300.4" x2="411.4" y2="310.2" stroke="#0028ff" stroke-width="0.9" stroke-opacity="0.7"/>
<line x1="412.5" y1="300.4" x2="412.5" y2="310.2" stroke="#0028ff" stroke-width="0.9" stroke-opacity="0.7"/>
<path d="M415.30,300.4 L415.30,300.40 L415.80,321.20 L416.60,328.00 L417.60,322.50 L419.00,321.20 L420.00,318.40 L421.00,315.70 L422.40,313.00 L423.70,312.30 L425.10,310.20 L425.40,300.40 L425.40,300.4 Z" fill="#0028ff"/>
<path d="M451.30,300.4 L451.30,300.40 L451.60,309.50 L452.20,309.50 L452.50,300.40 L452.50,300.4 Z" fill="#0028ff"/>
<line x1="511" y1="300.4" x2="511" y2="309.5" stroke="#0028ff" stroke-width="0.8" stroke-opacity="0.6"/>
<line x1="513" y1="300.4" x2="513" y2="309.5" stroke="#0028ff" stroke-width="0.8" stroke-opacity="0.6"/>
<path d="M520.00,300.4 L520.00,300.40 L520.50,315.50 L521.30,318.10 L523.00,319.00 L524.40,312.10 L524.80,300.40 L524.80,300.4 Z" fill="#0028ff"/>
<line x1="528.2" y1="300.4" x2="528.2" y2="313.8" stroke="#0028ff" stroke-width="0.9" stroke-opacity="0.7"/>
<line x1="535.6" y1="300.4" x2="535.6" y2="411" stroke="#0028ff" stroke-width="0.9" stroke-opacity="0.55"/>
<line x1="548.8" y1="300.4" x2="548.8" y2="352" stroke="#0028ff" stroke-width="0.9" stroke-opacity="0.6"/>
<path d="M552.00,300.4 L552.00,300.40 L552.30,315.50 L553.40,315.50 L553.70,300.40 L553.70,300.4 Z" fill="#0028ff"/>
<path d="M571.80,300.4 L571.80,300.40 L572.00,306.00 L572.60,312.00 L573.50,318.00 L574.50,322.00 L575.50,325.50 L576.50,326.50 L577.50,325.00 L578.50,322.00 L579.50,317.00 L580.50,311.00 L581.40,306.00 L581.90,300.40 L581.90,300.4 Z" fill="#0028ff"/>
<line x1="573.9" y1="300.4" x2="573.9" y2="330.8" stroke="#0028ff" stroke-width="1.0" stroke-opacity="0.4"/>
<line x1="575.2" y1="300.4" x2="575.2" y2="339.6" stroke="#0028ff" stroke-width="0.9" stroke-opacity="0.7"/>
<line x1="578.2" y1="300.4" x2="578.2" y2="332.3" stroke="#0028ff" stroke-width="0.9" stroke-opacity="0.7"/>
<path d="M591.10,300.4 L591.10,300.40 L591.30,313.00 L592.50,311.50 L594.00,310.00 L594.80,308.00 L595.20,300.40 L595.20,300.4 Z" fill="#0028ff"/>
<line x1="594" y1="300.4" x2="594" y2="356" stroke="#0028ff" stroke-width="0.9" stroke-opacity="0.6"/>
<path d="M605.30,300.4 L605.30,300.40 L605.50,315.00 L606.20,314.50 L607.50,308.00 L608.10,300.40 L608.10,300.4 Z" fill="#0028ff"/>
<line x1="621" y1="300.4" x2="621" y2="314.4" stroke="#0028ff" stroke-width="0.9" stroke-opacity="0.6"/>
<rect x="90.90" y="297.00" width="45.89" height="6.60" fill="#000" stroke="#000" stroke-width="0.6"/>
<text x="113.84" y="302.80" font-size="7.1" text-anchor="middle" fill="#eee">1</text>
<rect x="136.79" y="297.00" width="44.77" height="6.60" fill="#fff" stroke="#000" stroke-width="0.6"/>
<text x="159.17" y="302.80" font-size="7.1" text-anchor="middle" fill="#222">2</text>
<rect x="181.56" y="297.00" width="36.45" height="6.60" fill="#000" stroke="#000" stroke-width="0.6"/>
<text x="199.79" y="302.80" font-size="7.1" text-anchor="middle" fill="#eee">3</text>
<rect x="218.01" y="297.00" width="35.19" height="6.60" fill="#fff" stroke="#000" stroke-width="0.6"/>
<text x="235.61" y="302.80" font-size="7.1" text-anchor="middle" fill="#222">4</text>
<rect x="253.20" y="297.00" width="33.31" height="6.60" fill="#000" stroke="#000" stroke-width="0.6"/>
<text x="269.86" y="302.80" font-size="7.1" text-anchor="middle" fill="#eee">5</text>
<rect x="286.51" y="297.00" width="31.50" height="6.60" fill="#fff" stroke="#000" stroke-width="0.6"/>
<text x="302.26" y="302.80" font-size="7.1" text-anchor="middle" fill="#222">6</text>
<rect x="318.01" y="297.00" width="29.30" height="6.60" fill="#000" stroke="#000" stroke-width="0.6"/>
<text x="332.66" y="302.80" font-size="7.1" text-anchor="middle" fill="#eee">7</text>
<rect x="347.31" y="297.00" width="26.94" height="6.60" fill="#fff" stroke="#000" stroke-width="0.6"/>
<text x="360.78" y="302.80" font-size="7.1" text-anchor="middle" fill="#222">8</text>
<rect x="374.25" y="297.00" width="26.00" height="6.60" fill="#000" stroke="#000" stroke-width="0.6"/>
<text x="387.25" y="302.80" font-size="7.1" text-anchor="middle" fill="#eee">9</text>
<rect x="400.25" y="297.00" width="24.95" height="6.60" fill="#fff" stroke="#000" stroke-width="0.6"/>
<text x="412.72" y="302.80" font-size="7.1" text-anchor="middle" fill="#222">10</text>
<rect x="425.20" y="297.00" width="24.85" height="6.60" fill="#000" stroke="#000" stroke-width="0.6"/>
<text x="437.63" y="302.80" font-size="7.1" text-anchor="middle" fill="#eee">11</text>
<rect x="450.05" y="297.00" width="24.64" height="6.60" fill="#fff" stroke="#000" stroke-width="0.6"/>
<text x="462.38" y="302.80" font-size="7.1" text-anchor="middle" fill="#222">12</text>
<rect x="474.70" y="297.00" width="21.20" height="6.60" fill="#000" stroke="#000" stroke-width="0.6"/>
<text x="485.30" y="302.80" font-size="7.1" text-anchor="middle" fill="#eee">13</text>
<rect x="495.90" y="297.00" width="19.76" height="6.60" fill="#fff" stroke="#000" stroke-width="0.6"/>
<text x="505.78" y="302.80" font-size="7.1" text-anchor="middle" fill="#222">14</text>
<rect x="515.66" y="297.00" width="18.88" height="6.60" fill="#000" stroke="#000" stroke-width="0.6"/>
<text x="525.10" y="302.80" font-size="7.1" text-anchor="middle" fill="#eee">15</text>
<rect x="534.54" y="297.00" width="16.63" height="6.60" fill="#fff" stroke="#000" stroke-width="0.6"/>
<text x="542.85" y="302.80" font-size="7.1" text-anchor="middle" fill="#222">16</text>
<rect x="551.17" y="297.00" width="14.95" height="6.60" fill="#000" stroke="#000" stroke-width="0.6"/>
<text x="558.64" y="302.80" font-size="7.1" text-anchor="middle" fill="#eee">17</text>
<rect x="566.12" y="297.00" width="14.37" height="6.60" fill="#fff" stroke="#000" stroke-width="0.6"/>
<text x="573.30" y="302.80" font-size="7.1" text-anchor="middle" fill="#222">18</text>
<rect x="580.49" y="297.00" width="10.89" height="6.60" fill="#000" stroke="#000" stroke-width="0.6"/>
<text x="585.93" y="302.80" font-size="7.1" text-anchor="middle" fill="#eee">19</text>
<rect x="591.38" y="297.00" width="11.60" height="6.60" fill="#fff" stroke="#000" stroke-width="0.6"/>
<text x="597.18" y="302.80" font-size="7.1" text-anchor="middle" fill="#222">20</text>
<rect x="602.98" y="297.00" width="8.86" height="6.60" fill="#000" stroke="#000" stroke-width="0.6"/>
<text x="607.41" y="302.80" font-size="7.1" text-anchor="middle" fill="#eee">21</text>
<rect x="611.84" y="297.00" width="9.44" height="6.60" fill="#fff" stroke="#000" stroke-width="0.6"/>
<text x="616.56" y="302.80" font-size="7.1" text-anchor="middle" fill="#222">22</text>
<rect x="621.29" y="297.00" width="28.58" height="6.60" fill="#000" stroke="#000" stroke-width="0.6"/>
<text x="635.58" y="302.80" font-size="7.1" text-anchor="middle" fill="#eee">X</text>
<rect x="649.87" y="297.00" width="10.93" height="6.60" fill="#fff" stroke="#000" stroke-width="0.6"/>
<text x="655.34" y="302.80" font-size="7.1" text-anchor="middle" fill="#222">Y</text>
<text x="74.6" y="197.4" font-size="20.5" font-weight="bold" textLength="61.4" lengthAdjust="spacingAndGlyphs">COAD</text>
<text x="-0.5" y="176.7" font-size="24" font-weight="bold">B</text>
<text transform="translate(27.3,299.3) rotate(-90)" font-size="18.2" text-anchor="middle">G-Score</text>
<line x1="70.4" y1="466.48" x2="672" y2="466.48" stroke="#f0f0f0" stroke-width="0.9" stroke-dasharray="1.5,3.5"/>
<line x1="70.4" y1="502.81" x2="672" y2="502.81" stroke="#f0f0f0" stroke-width="0.9" stroke-dasharray="1.5,3.5"/>
<line x1="70.4" y1="539.14" x2="672" y2="539.14" stroke="#f0f0f0" stroke-width="0.9" stroke-dasharray="1.5,3.5"/>
<line x1="70.4" y1="575.47" x2="672" y2="575.47" stroke="#f0f0f0" stroke-width="0.9" stroke-dasharray="1.5,3.5"/>
<line x1="70.4" y1="611.80" x2="672" y2="611.80" stroke="#f0f0f0" stroke-width="0.9" stroke-dasharray="1.5,3.5"/>
<line x1="70.4" y1="648.13" x2="672" y2="648.13" stroke="#f0f0f0" stroke-width="0.9" stroke-dasharray="1.5,3.5"/>
<line x1="70.4" y1="684.46" x2="672" y2="684.46" stroke="#f0f0f0" stroke-width="0.9" stroke-dasharray="1.5,3.5"/>
<line x1="70.4" y1="720.79" x2="672" y2="720.79" stroke="#f0f0f0" stroke-width="0.9" stroke-dasharray="1.5,3.5"/>
<line x1="137.49" y1="466.48" x2="137.49" y2="720.79" stroke="#f0f0f0" stroke-width="0.9" stroke-dasharray="1.5,3.5"/>
<line x1="182.26" y1="466.48" x2="182.26" y2="720.79" stroke="#f0f0f0" stroke-width="0.9" stroke-dasharray="1.5,3.5"/>
<line x1="218.71" y1="466.48" x2="218.71" y2="720.79" stroke="#f0f0f0" stroke-width="0.9" stroke-dasharray="1.5,3.5"/>
<line x1="253.90" y1="466.48" x2="253.90" y2="720.79" stroke="#f0f0f0" stroke-width="0.9" stroke-dasharray="1.5,3.5"/>
<line x1="287.21" y1="466.48" x2="287.21" y2="720.79" stroke="#f0f0f0" stroke-width="0.9" stroke-dasharray="1.5,3.5"/>
<line x1="318.71" y1="466.48" x2="318.71" y2="720.79" stroke="#f0f0f0" stroke-width="0.9" stroke-dasharray="1.5,3.5"/>
<line x1="348.01" y1="466.48" x2="348.01" y2="720.79" stroke="#f0f0f0" stroke-width="0.9" stroke-dasharray="1.5,3.5"/>
<line x1="374.95" y1="466.48" x2="374.95" y2="720.79" stroke="#f0f0f0" stroke-width="0.9" stroke-dasharray="1.5,3.5"/>
<line x1="400.95" y1="466.48" x2="400.95" y2="720.79" stroke="#f0f0f0" stroke-width="0.9" stroke-dasharray="1.5,3.5"/>
<line x1="425.90" y1="466.48" x2="425.90" y2="720.79" stroke="#f0f0f0" stroke-width="0.9" stroke-dasharray="1.5,3.5"/>
<line x1="450.75" y1="466.48" x2="450.75" y2="720.79" stroke="#f0f0f0" stroke-width="0.9" stroke-dasharray="1.5,3.5"/>
<line x1="475.40" y1="466.48" x2="475.40" y2="720.79" stroke="#f0f0f0" stroke-width="0.9" stroke-dasharray="1.5,3.5"/>
<line x1="496.60" y1="466.48" x2="496.60" y2="720.79" stroke="#f0f0f0" stroke-width="0.9" stroke-dasharray="1.5,3.5"/>
<line x1="516.36" y1="466.48" x2="516.36" y2="720.79" stroke="#f0f0f0" stroke-width="0.9" stroke-dasharray="1.5,3.5"/>
<line x1="535.24" y1="466.48" x2="535.24" y2="720.79" stroke="#f0f0f0" stroke-width="0.9" stroke-dasharray="1.5,3.5"/>
<line x1="551.87" y1="466.48" x2="551.87" y2="720.79" stroke="#f0f0f0" stroke-width="0.9" stroke-dasharray="1.5,3.5"/>
<line x1="566.82" y1="466.48" x2="566.82" y2="720.79" stroke="#f0f0f0" stroke-width="0.9" stroke-dasharray="1.5,3.5"/>
<line x1="581.19" y1="466.48" x2="581.19" y2="720.79" stroke="#f0f0f0" stroke-width="0.9" stroke-dasharray="1.5,3.5"/>
<line x1="592.08" y1="466.48" x2="592.08" y2="720.79" stroke="#f0f0f0" stroke-width="0.9" stroke-dasharray="1.5,3.5"/>
<line x1="603.68" y1="466.48" x2="603.68" y2="720.79" stroke="#f0f0f0" stroke-width="0.9" stroke-dasharray="1.5,3.5"/>
<line x1="612.54" y1="466.48" x2="612.54" y2="720.79" stroke="#f0f0f0" stroke-width="0.9" stroke-dasharray="1.5,3.5"/>
<line x1="621.99" y1="466.48" x2="621.99" y2="720.79" stroke="#f0f0f0" stroke-width="0.9" stroke-dasharray="1.5,3.5"/>
<line x1="650.57" y1="466.48" x2="650.57" y2="720.79" stroke="#f0f0f0" stroke-width="0.9" stroke-dasharray="1.5,3.5"/>
<line x1="661.50" y1="466.48" x2="661.50" y2="720.79" stroke="#f0f0f0" stroke-width="0.9" stroke-dasharray="1.5,3.5"/>
<line x1="69.4" y1="465.98" x2="69.4" y2="721.29" stroke="#8c8c8c" stroke-width="1.1"/>
<line x1="64.2" y1="466.48" x2="69.4" y2="466.48" stroke="#8c8c8c" stroke-width="1.1"/>
<text x="63.1" y="474.30" font-size="18.5" text-anchor="end" fill="#000">0.8</text>
<line x1="64.2" y1="502.81" x2="69.4" y2="502.81" stroke="#8c8c8c" stroke-width="1.1"/>
<text x="63.1" y="510.15" font-size="18.5" text-anchor="end" fill="#000">0.6</text>
<line x1="64.2" y1="539.14" x2="69.4" y2="539.14" stroke="#8c8c8c" stroke-width="1.1"/>
<text x="63.1" y="546.00" font-size="18.5" text-anchor="end" fill="#000">0.4</text>
<line x1="64.2" y1="575.47" x2="69.4" y2="575.47" stroke="#8c8c8c" stroke-width="1.1"/>
<text x="63.1" y="581.85" font-size="18.5" text-anchor="end" fill="#000">0.2</text>
<line x1="64.2" y1="611.80" x2="69.4" y2="611.80" stroke="#8c8c8c" stroke-width="1.1"/>
<text x="63.1" y="617.70" font-size="18.5" text-anchor="end" fill="#000">0.0</text>
<line x1="64.2" y1="648.13" x2="69.4" y2="648.13" stroke="#8c8c8c" stroke-width="1.1"/>
<text x="63.1" y="653.55" font-size="18.5" text-anchor="end" fill="#000">-0.2</text>
<line x1="64.2" y1="684.46" x2="69.4" y2="684.46" stroke="#8c8c8c" stroke-width="1.1"/>
<text x="63.1" y="689.40" font-size="18.5" text-anchor="end" fill="#000">-0.4</text>
<line x1="64.2" y1="720.79" x2="69.4" y2="720.79" stroke="#8c8c8c" stroke-width="1.1"/>
<text x="63.1" y="725.25" font-size="18.5" text-anchor="end" fill="#000">-0.6</text>
<path d="M91.00,611.95 L91.00,608.56 L91.60,606.28 L92.20,605.90 L92.80,608.80 L93.40,607.74 L94.00,607.56 L94.60,607.88 L95.20,607.49 L95.80,607.32 L96.40,607.06 L97.00,606.90 L97.60,608.17 L97.60,611.95 Z" fill="#afafaf"/>
<path d="M98.00,611.95 L98.00,607.85 L98.60,608.81 L99.20,602.96 L99.80,604.65 L99.80,611.95 Z" fill="#afafaf"/>
<path d="M100.00,611.95 L100.00,605.66 L100.60,606.83 L101.20,605.93 L101.80,606.76 L102.40,608.56 L103.00,607.66 L103.60,606.14 L104.20,606.43 L104.80,607.14 L104.80,611.95 Z" fill="#afafaf"/>
<path d="M105.00,611.95 L105.00,608.32 L105.60,606.58 L106.20,606.10 L106.80,605.98 L107.40,606.25 L108.00,607.34 L108.60,605.80 L109.20,606.70 L109.80,607.32 L109.80,611.95 Z" fill="#afafaf"/>
<path d="M110.00,611.95 L110.00,606.27 L110.60,605.44 L111.20,605.88 L111.80,604.98 L112.40,603.95 L113.00,608.17 L113.60,603.89 L114.20,604.48 L114.80,607.30 L115.40,607.08 L116.00,606.72 L116.60,606.63 L117.20,604.44 L117.80,605.70 L117.80,611.95 Z" fill="#afafaf"/>
<path d="M118.00,611.95 L118.00,603.85 L118.60,603.04 L119.20,600.93 L119.80,599.96 L120.40,607.14 L121.00,605.70 L121.60,601.94 L122.20,600.05 L122.80,597.90 L123.40,605.03 L124.00,605.23 L124.60,607.07 L125.20,600.81 L125.80,602.03 L126.40,601.83 L127.00,603.03 L127.00,611.95 Z" fill="#afafaf"/>
<path d="M127.00,611.95 L127.00,597.55 L127.60,588.32 L128.20,586.90 L128.80,594.31 L129.40,590.33 L130.00,594.19 L130.60,593.14 L131.20,589.18 L131.80,591.41 L131.80,611.95 Z" fill="#afafaf"/>
<path d="M132.00,611.95 L132.00,592.39 L132.60,589.44 L133.20,596.09 L133.80,593.95 L134.40,584.61 L135.00,593.74 L135.00,611.95 Z" fill="#afafaf"/>
<path d="M135.00,611.95 L135.00,597.06 L135.60,599.54 L136.20,597.29 L136.80,592.86 L136.80,611.95 Z" fill="#afafaf"/>
<path d="M137.00,611.95 L137.00,607.09 L137.60,606.76 L138.20,607.30 L138.80,607.84 L139.40,606.82 L140.00,608.22 L140.60,607.59 L141.20,608.77 L141.80,607.44 L142.40,607.28 L143.00,608.03 L143.60,607.20 L144.20,607.00 L144.80,608.50 L145.40,608.42 L146.00,607.21 L146.60,606.71 L147.20,607.50 L147.80,607.23 L148.40,606.88 L149.00,608.19 L149.60,608.42 L150.20,608.70 L150.80,607.15 L151.40,608.05 L152.00,607.47 L152.60,606.84 L153.20,607.76 L153.80,606.99 L154.40,607.10 L155.00,608.72 L155.00,611.95 Z" fill="#afafaf"/>
<path d="M155.00,611.95 L155.00,605.44 L155.60,603.48 L156.20,606.49 L156.80,605.35 L157.40,607.26 L158.00,604.83 L158.00,611.95 Z" fill="#afafaf"/>
<path d="M158.00,611.95 L158.00,607.06 L158.60,608.76 L159.20,606.91 L159.80,606.45 L160.40,606.54 L161.00,608.27 L161.60,606.99 L162.20,606.47 L162.80,606.96 L163.40,608.11 L164.00,606.86 L164.60,606.20 L165.20,607.12 L165.80,608.28 L166.40,606.17 L167.00,606.90 L167.60,608.54 L167.60,611.95 Z" fill="#afafaf"/>
<path d="M168.00,611.95 L168.00,605.67 L168.60,602.81 L169.20,604.78 L169.80,608.23 L170.40,602.74 L171.00,604.36 L171.60,607.79 L171.60,611.95 Z" fill="#afafaf"/>
<path d="M172.00,611.95 L172.00,605.89 L172.60,608.21 L173.20,601.80 L173.80,603.49 L174.40,605.00 L175.00,601.41 L175.60,599.20 L175.60,611.95 Z" fill="#afafaf"/>
<path d="M176.00,611.95 L176.00,604.27 L176.60,605.76 L177.20,604.77 L177.80,608.13 L178.40,601.98 L179.00,603.30 L179.60,604.07 L180.20,601.06 L180.80,601.59 L181.40,603.71 L181.40,611.95 Z" fill="#afafaf"/>
<path d="M182.00,611.95 L182.00,608.50 L182.60,608.16 L183.20,608.06 L183.80,606.95 L184.40,605.52 L185.00,605.48 L185.60,608.05 L186.20,605.49 L186.80,607.88 L187.40,606.14 L188.00,606.82 L188.60,605.51 L189.20,606.69 L189.80,606.21 L190.40,606.74 L191.00,607.53 L191.60,607.42 L192.20,607.81 L192.80,608.76 L193.40,604.99 L194.00,606.24 L194.60,606.50 L195.20,606.38 L195.80,608.61 L196.40,605.64 L197.00,605.03 L197.60,607.85 L198.20,608.16 L198.80,606.37 L199.40,604.63 L200.00,605.55 L200.60,606.12 L201.20,607.49 L201.80,605.88 L202.40,608.00 L203.00,605.63 L203.00,611.95 Z" fill="#afafaf"/>
<path d="M203.00,611.95 L203.00,600.73 L203.60,601.77 L204.20,604.33 L204.80,605.39 L205.40,603.01 L206.00,603.61 L206.00,611.95 Z" fill="#afafaf"/>
<path d="M206.00,611.95 L206.00,596.71 L206.60,604.16 L207.20,603.02 L207.80,603.23 L208.40,602.04 L209.00,598.99 L209.60,606.76 L209.60,611.95 Z" fill="#afafaf"/>
<path d="M210.00,611.95 L210.00,606.50 L210.60,603.47 L211.20,607.07 L211.80,608.26 L212.40,606.22 L213.00,606.33 L213.60,604.83 L214.20,605.63 L214.80,606.80 L215.40,607.49 L216.00,607.58 L216.60,605.02 L217.20,606.75 L217.80,605.37 L217.80,611.95 Z" fill="#afafaf"/>
<path d="M218.00,611.95 L218.00,605.86 L218.60,608.53 L219.20,608.14 L219.80,607.09 L220.40,608.43 L221.00,605.61 L221.60,607.97 L222.20,608.53 L222.80,605.19 L223.40,605.12 L224.00,606.43 L224.60,607.16 L225.20,605.77 L225.80,607.14 L226.40,608.76 L227.00,606.40 L227.60,605.35 L228.20,607.01 L228.80,608.23 L229.40,608.28 L230.00,606.11 L230.60,605.77 L231.20,607.84 L231.80,605.98 L232.40,605.56 L233.00,608.70 L233.60,606.01 L234.20,605.27 L234.80,607.28 L235.40,607.74 L236.00,605.27 L236.60,605.22 L237.20,606.22 L237.80,606.88 L238.40,606.33 L239.00,605.33 L239.60,606.77 L240.20,605.66 L240.80,605.19 L241.40,607.90 L242.00,606.59 L242.60,606.81 L243.20,604.29 L243.80,608.38 L244.40,606.17 L245.00,605.61 L245.60,607.44 L246.20,606.16 L246.80,605.29 L247.40,606.98 L248.00,608.21 L248.60,605.69 L249.20,606.24 L249.80,605.88 L249.80,611.95 Z" fill="#afafaf"/>
<path d="M250.00,611.95 L250.00,601.96 L250.60,605.70 L251.20,604.42 L251.80,602.21 L252.40,601.01 L253.00,604.55 L253.60,603.07 L254.20,606.11 L254.80,603.47 L255.40,605.11 L256.00,601.83 L256.60,602.16 L257.20,605.06 L257.80,607.45 L257.80,611.95 Z" fill="#afafaf"/>
<path d="M258.00,611.95 L258.00,605.31 L258.60,604.96 L259.20,605.46 L259.80,604.25 L260.40,601.36 L261.00,600.22 L261.60,605.19 L262.20,603.01 L262.80,599.75 L263.40,604.30 L264.00,605.04 L264.60,602.04 L265.20,601.70 L265.80,599.31 L265.80,611.95 Z" fill="#afafaf"/>
<path d="M266.00,611.95 L266.00,604.65 L266.60,606.16 L267.20,607.16 L267.80,606.06 L268.40,608.66 L269.00,608.15 L269.60,605.73 L270.20,607.01 L270.80,606.08 L271.40,604.20 L272.00,608.21 L272.60,608.57 L273.20,605.12 L273.80,608.01 L274.40,607.42 L275.00,604.53 L275.60,605.71 L276.20,605.30 L276.80,604.16 L277.40,604.25 L278.00,605.58 L278.60,605.62 L279.20,607.30 L279.80,608.53 L279.80,611.95 Z" fill="#afafaf"/>
<path d="M280.00,611.95 L280.00,605.26 L280.60,604.80 L281.20,604.01 L281.80,602.26 L282.40,602.95 L283.00,603.22 L283.60,602.98 L284.20,607.17 L284.80,605.05 L285.40,607.72 L285.40,611.95 Z" fill="#afafaf"/>
<path d="M286.00,611.95 L286.00,607.53 L286.60,607.34 L287.20,605.50 L287.80,599.72 L288.40,608.22 L289.00,602.60 L289.60,600.47 L290.20,604.26 L290.80,605.26 L291.40,601.30 L291.40,611.95 Z" fill="#afafaf"/>
<path d="M292.00,611.95 L292.00,599.14 L292.60,598.87 L293.20,599.12 L293.80,597.41 L294.40,604.93 L294.40,611.95 Z" fill="#afafaf"/>
<path d="M295.00,611.95 L295.00,600.68 L295.60,599.90 L296.20,607.26 L296.80,595.76 L297.40,595.56 L298.00,595.80 L298.60,602.40 L299.20,602.31 L299.80,604.93 L300.40,602.65 L300.40,611.95 Z" fill="#afafaf"/>
<path d="M301.00,611.95 L301.00,603.84 L301.60,601.48 L302.20,600.54 L302.80,603.73 L303.40,604.97 L304.00,607.42 L304.60,600.03 L305.20,608.10 L305.80,604.19 L306.40,605.29 L307.00,602.27 L307.60,607.88 L308.20,608.48 L308.80,605.86 L309.40,599.63 L309.40,611.95 Z" fill="#afafaf"/>
<path d="M310.00,611.95 L310.00,597.07 L310.60,604.58 L311.20,601.56 L311.80,599.17 L312.40,596.76 L313.00,598.12 L313.60,596.61 L314.20,605.93 L314.80,596.96 L315.40,596.44 L316.00,602.75 L316.60,602.29 L317.20,600.46 L317.80,597.21 L317.80,611.95 Z" fill="#afafaf"/>
<path d="M318.00,611.95 L318.00,604.94 L318.60,604.92 L319.20,603.47 L319.80,604.49 L320.40,605.12 L321.00,605.05 L321.60,603.14 L322.20,602.73 L322.80,605.74 L323.40,601.37 L324.00,603.87 L324.60,604.51 L325.20,606.23 L325.80,606.73 L326.40,605.80 L327.00,605.22 L327.60,604.62 L328.20,602.73 L328.80,603.21 L329.40,605.81 L330.00,607.38 L330.60,605.57 L331.20,603.38 L331.80,604.43 L332.40,608.24 L333.00,606.62 L333.60,603.77 L334.20,603.09 L334.80,604.57 L335.40,602.89 L336.00,605.03 L336.60,608.74 L337.20,604.23 L337.80,606.59 L338.40,601.20 L339.00,605.73 L339.60,607.49 L339.60,611.95 Z" fill="#afafaf"/>
<path d="M340.00,611.95 L340.00,599.54 L340.60,597.45 L341.20,601.17 L341.80,598.98 L342.40,597.72 L343.00,598.02 L343.60,599.01 L344.20,608.85 L344.80,595.82 L345.40,598.92 L345.40,611.95 Z" fill="#afafaf"/>
<path d="M346.00,611.95 L346.00,601.28 L346.60,601.48 L347.20,600.39 L347.80,600.86 L348.40,601.77 L349.00,605.19 L349.60,605.03 L350.20,601.85 L350.80,602.57 L351.40,607.01 L352.00,601.20 L352.60,605.48 L353.20,608.42 L353.80,600.80 L353.80,611.95 Z" fill="#afafaf"/>
<path d="M375.50,611.95 L375.50,604.72 L376.10,607.19 L376.70,604.81 L377.30,599.08 L377.90,602.61 L378.50,604.83 L379.10,607.30 L379.70,603.11 L379.70,611.95 Z" fill="#afafaf"/>
<path d="M380.00,611.95 L380.00,600.19 L380.60,601.66 L381.20,602.06 L381.80,598.88 L382.40,600.09 L382.40,611.95 Z" fill="#afafaf"/>
<path d="M383.00,611.95 L383.00,605.72 L383.60,602.80 L384.20,604.71 L384.80,602.57 L385.40,602.26 L386.00,604.78 L386.60,606.25 L387.20,603.70 L387.80,605.42 L388.40,605.40 L389.00,605.48 L389.60,603.64 L390.20,603.36 L390.80,606.48 L391.40,604.07 L392.00,605.16 L392.60,606.11 L393.20,604.26 L393.80,602.60 L394.40,605.96 L394.40,611.95 Z" fill="#afafaf"/>
<path d="M395.00,611.95 L395.00,601.85 L395.60,607.46 L396.20,607.92 L396.80,607.00 L397.40,595.83 L398.00,604.54 L398.60,602.70 L399.20,597.01 L399.80,597.05 L400.40,595.77 L400.40,611.95 Z" fill="#afafaf"/>
<path d="M401.00,611.95 L401.00,604.63 L401.60,604.37 L402.20,604.48 L402.80,606.49 L403.40,604.53 L404.00,604.38 L404.60,606.22 L405.20,607.03 L405.80,603.55 L406.40,608.25 L407.00,604.08 L407.60,604.55 L408.20,603.74 L408.80,606.31 L409.40,604.10 L410.00,604.63 L410.60,603.53 L411.20,605.58 L411.80,604.50 L411.80,611.95 Z" fill="#afafaf"/>
<path d="M412.00,611.95 L412.00,593.31 L412.60,590.81 L413.20,598.83 L413.80,592.47 L414.40,594.93 L415.00,599.78 L415.60,590.61 L416.20,595.47 L416.80,597.99 L417.40,591.13 L417.40,611.95 Z" fill="#afafaf"/>
<path d="M418.00,611.95 L418.00,603.61 L418.60,603.97 L419.20,607.32 L419.80,607.17 L420.40,603.68 L421.00,607.14 L421.60,608.56 L422.20,603.01 L422.80,607.33 L423.40,605.54 L424.00,602.96 L424.60,604.30 L424.60,611.95 Z" fill="#afafaf"/>
<path d="M425.00,611.95 L425.00,607.93 L425.60,607.75 L426.20,608.30 L426.80,608.73 L427.40,607.19 L428.00,607.78 L428.60,608.61 L429.20,607.95 L429.80,604.94 L430.40,605.74 L431.00,604.51 L431.60,605.20 L432.20,606.21 L432.80,608.10 L433.40,605.91 L434.00,607.40 L434.60,606.90 L435.20,605.80 L435.80,607.45 L435.80,611.95 Z" fill="#afafaf"/>
<path d="M436.00,611.95 L436.00,597.34 L436.60,598.99 L437.20,601.60 L437.80,601.39 L438.40,603.80 L439.00,600.40 L439.60,600.23 L440.20,601.56 L440.80,602.41 L441.40,602.12 L441.40,611.95 Z" fill="#afafaf"/>
<path d="M442.00,611.95 L442.00,605.01 L442.60,606.48 L443.20,604.92 L443.80,605.17 L444.40,607.50 L445.00,606.92 L445.60,607.67 L446.20,607.48 L446.80,605.30 L447.40,605.80 L448.00,605.64 L448.60,608.28 L449.20,605.14 L449.80,604.78 L449.80,611.95 Z" fill="#afafaf"/>
<path d="M450.00,611.95 L450.00,606.84 L450.60,604.53 L451.20,606.10 L451.80,608.92 L452.40,607.43 L453.00,606.64 L453.60,604.93 L454.20,606.43 L454.80,608.84 L455.40,606.26 L456.00,608.28 L456.60,607.34 L457.20,605.72 L457.80,607.74 L457.80,611.95 Z" fill="#afafaf"/>
<path d="M458.00,611.95 L458.00,598.82 L458.60,603.30 L459.20,604.45 L459.80,608.75 L460.40,604.38 L461.00,605.48 L461.60,599.50 L462.20,606.10 L462.80,599.40 L463.40,600.61 L464.00,606.83 L464.60,606.17 L464.60,611.95 Z" fill="#afafaf"/>
<path d="M465.00,611.95 L465.00,603.47 L465.60,604.60 L466.20,605.07 L466.80,607.81 L467.40,603.95 L468.00,604.01 L468.60,607.57 L469.20,605.80 L469.80,608.72 L469.80,611.95 Z" fill="#afafaf"/>
<path d="M470.00,611.95 L470.00,607.08 L470.60,604.37 L471.20,601.08 L471.80,600.98 L472.40,601.96 L473.00,601.98 L473.60,603.06 L474.20,604.73 L474.80,602.77 L475.40,603.48 L476.00,606.77 L476.60,607.93 L476.60,611.95 Z" fill="#afafaf"/>
<path d="M477.00,611.95 L477.00,603.55 L477.60,604.42 L478.20,605.74 L478.80,606.31 L478.80,611.95 Z" fill="#afafaf"/>
<path d="M497.00,611.95 L497.00,606.49 L497.60,605.88 L498.20,605.57 L498.80,607.89 L499.40,607.86 L500.00,606.43 L500.60,605.89 L501.20,607.10 L501.80,607.52 L502.40,606.75 L503.00,607.61 L503.60,608.09 L504.20,606.41 L504.80,606.15 L505.40,605.85 L506.00,605.79 L506.60,607.08 L507.20,608.78 L507.80,608.85 L508.40,607.83 L509.00,605.99 L509.60,605.82 L510.20,607.79 L510.80,606.47 L511.40,606.00 L512.00,606.34 L512.60,607.50 L513.20,607.26 L513.80,605.14 L514.40,607.87 L515.00,606.86 L515.60,607.90 L515.60,611.95 Z" fill="#afafaf"/>
<path d="M516.00,611.95 L516.00,603.93 L516.60,604.09 L517.20,604.52 L517.80,606.36 L518.40,604.56 L519.00,607.93 L519.60,607.76 L520.20,603.47 L520.80,603.36 L521.40,606.82 L522.00,605.07 L522.60,605.20 L523.20,605.65 L523.80,605.09 L524.40,607.71 L525.00,608.21 L525.60,608.42 L526.20,607.55 L526.80,604.77 L527.40,608.00 L528.00,604.04 L528.60,607.24 L529.20,607.98 L529.80,608.80 L529.80,611.95 Z" fill="#afafaf"/>
<path d="M530.00,611.95 L530.00,602.98 L530.60,602.87 L531.20,598.23 L531.80,599.85 L532.40,604.87 L533.00,599.74 L533.60,601.75 L534.20,597.81 L534.80,595.84 L534.80,611.95 Z" fill="#afafaf"/>
<path d="M535.00,611.95 L535.00,604.83 L535.60,603.61 L536.20,608.12 L536.80,606.67 L537.40,604.68 L538.00,604.30 L538.60,605.43 L538.60,611.95 Z" fill="#afafaf"/>
<path d="M539.00,611.95 L539.00,599.20 L539.60,597.24 L540.20,599.74 L540.80,602.21 L541.40,599.86 L542.00,598.19 L542.60,591.76 L542.60,611.95 Z" fill="#afafaf"/>
<path d="M543.00,611.95 L543.00,601.78 L543.60,603.69 L544.20,603.04 L544.80,605.00 L545.40,603.02 L546.00,602.29 L546.60,603.89 L547.20,603.13 L547.80,608.24 L548.40,603.05 L549.00,604.22 L549.60,603.81 L550.20,607.77 L550.80,606.43 L550.80,611.95 Z" fill="#afafaf"/>
<path d="M551.00,611.95 L551.00,602.28 L551.60,599.65 L552.20,598.80 L552.80,599.64 L553.40,604.73 L554.00,600.50 L554.60,604.38 L554.60,611.95 Z" fill="#afafaf"/>
<path d="M555.00,611.95 L555.00,597.92 L555.60,596.01 L556.20,595.66 L556.80,598.29 L557.40,596.52 L558.00,601.31 L558.60,594.82 L559.20,596.16 L559.80,600.07 L560.40,593.81 L561.00,597.82 L561.60,596.15 L562.20,598.88 L562.80,596.76 L563.40,594.16 L564.00,599.47 L564.60,596.43 L565.20,597.19 L565.80,600.95 L566.40,595.24 L567.00,597.86 L567.60,595.16 L567.60,611.95 Z" fill="#afafaf"/>
<path d="M568.00,611.95 L568.00,607.14 L568.60,594.32 L569.20,595.28 L569.80,605.72 L570.40,599.77 L571.00,603.14 L571.60,604.74 L572.20,602.86 L572.80,600.08 L572.80,611.95 Z" fill="#afafaf"/>
<path d="M573.00,611.95 L573.00,603.76 L573.60,603.56 L574.20,601.80 L574.80,603.59 L575.40,605.10 L576.00,605.02 L576.60,603.35 L577.20,600.55 L577.80,603.41 L578.40,601.97 L579.00,601.83 L579.60,606.78 L579.60,611.95 Z" fill="#afafaf"/>
<path d="M580.00,611.95 L580.00,605.12 L580.60,603.45 L581.20,608.56 L581.80,601.44 L582.40,602.82 L583.00,605.84 L583.60,603.84 L584.20,601.74 L584.80,608.26 L585.40,606.55 L586.00,602.25 L586.60,604.55 L587.20,600.65 L587.80,601.30 L587.80,611.95 Z" fill="#afafaf"/>
<path d="M588.00,611.95 L588.00,598.75 L588.60,595.87 L589.20,605.47 L589.80,599.43 L590.40,604.27 L590.40,611.95 Z" fill="#afafaf"/>
<path d="M591.00,611.95 L591.00,598.57 L591.60,593.94 L592.20,592.07 L592.80,597.87 L593.40,593.23 L594.00,590.22 L594.60,590.99 L595.20,597.65 L595.20,611.95 Z" fill="#afafaf"/>
<path d="M604.00,611.95 L604.00,607.04 L604.60,605.12 L605.20,604.55 L605.80,606.61 L605.80,611.95 Z" fill="#afafaf"/>
<path d="M606.00,611.95 L606.00,604.50 L606.60,605.99 L607.20,601.96 L607.80,602.14 L608.40,605.82 L608.40,611.95 Z" fill="#afafaf"/>
<path d="M609.00,611.95 L609.00,606.93 L609.60,606.28 L610.20,606.84 L610.80,608.82 L611.40,604.60 L612.00,607.64 L612.60,605.97 L613.20,604.55 L613.80,606.10 L614.40,604.43 L614.40,611.95 Z" fill="#afafaf"/>
<path d="M615.00,611.95 L615.00,598.73 L615.60,596.67 L616.20,602.00 L616.80,598.39 L617.40,605.86 L618.00,596.20 L618.60,600.94 L618.60,611.95 Z" fill="#afafaf"/>
<path d="M619.00,611.95 L619.00,604.87 L619.60,605.22 L620.20,606.38 L620.80,604.27 L621.40,603.77 L621.40,611.95 Z" fill="#afafaf"/>
<path d="M622.00,611.95 L622.00,588.72 L622.60,593.47 L623.20,593.48 L623.80,587.18 L624.40,590.00 L625.00,597.24 L625.60,592.46 L626.20,588.39 L626.80,593.85 L627.40,591.03 L627.40,611.95 Z" fill="#afafaf"/>
<path d="M628.00,611.95 L628.00,607.32 L628.60,607.68 L629.20,608.42 L629.80,607.50 L630.40,607.32 L631.00,607.53 L631.60,608.81 L632.20,608.19 L632.80,608.63 L633.40,607.72 L634.00,607.79 L634.60,607.95 L635.20,607.87 L635.80,607.66 L636.40,608.88 L637.00,607.75 L637.60,608.54 L638.20,607.29 L638.80,608.34 L639.40,608.14 L640.00,607.43 L640.60,608.49 L641.20,607.47 L641.80,608.19 L642.40,608.67 L643.00,607.48 L643.60,607.78 L643.60,611.95 Z" fill="#afafaf"/>
<path d="M644.00,611.95 L644.00,594.87 L644.60,593.15 L645.20,586.51 L645.80,590.31 L646.40,598.48 L647.00,591.34 L647.60,588.35 L648.20,597.66 L648.80,596.89 L649.40,590.30 L650.00,588.58 L650.60,587.43 L650.60,611.95 Z" fill="#afafaf"/>
<path d="M651.00,611.95 L651.00,607.58 L651.60,608.20 L652.20,607.47 L652.80,607.53 L653.40,608.27 L654.00,607.64 L654.60,608.50 L655.20,607.33 L655.80,607.42 L656.40,607.85 L657.00,608.13 L657.60,608.87 L658.20,608.15 L658.80,608.25 L659.40,608.63 L660.00,607.70 L660.60,608.34 L660.60,611.95 Z" fill="#afafaf"/>
<path d="M112.60,611.95 L112.60,611.95 L113.10,600.20 L113.50,600.20 L114.00,611.95 L114.00,611.95 Z" fill="#afafaf"/>
<path d="M155.90,611.95 L155.90,611.95 L156.40,602.20 L156.80,602.20 L157.30,611.95 L157.30,611.95 Z" fill="#afafaf"/>
<path d="M174.00,611.95 L174.00,611.95 L174.50,596.40 L174.90,596.40 L175.40,611.95 L175.40,611.95 Z" fill="#afafaf"/>
<path d="M168.80,611.95 L168.80,611.95 L169.30,603.40 L169.70,603.40 L170.20,611.95 L170.20,611.95 Z" fill="#afafaf"/>
<path d="M207.30,611.95 L207.30,611.95 L207.80,596.40 L208.20,596.40 L208.70,611.95 L208.70,611.95 Z" fill="#afafaf"/>
<path d="M204.30,611.95 L204.30,611.95 L204.80,601.00 L205.20,601.00 L205.70,611.95 L205.70,611.95 Z" fill="#afafaf"/>
<path d="M254.00,611.95 L254.00,611.95 L254.50,600.50 L254.90,600.50 L255.40,611.95 L255.40,611.95 Z" fill="#afafaf"/>
<path d="M261.30,611.95 L261.30,611.95 L261.80,599.40 L262.20,599.40 L262.70,611.95 L262.70,611.95 Z" fill="#afafaf"/>
<path d="M282.30,611.95 L282.30,611.95 L282.80,601.90 L283.20,601.90 L283.70,611.95 L283.70,611.95 Z" fill="#afafaf"/>
<path d="M292.30,611.95 L292.30,611.95 L292.80,597.80 L293.20,597.80 L293.70,611.95 L293.70,611.95 Z" fill="#afafaf"/>
<path d="M298.30,611.95 L298.30,611.95 L298.80,595.30 L299.20,595.30 L299.70,611.95 L299.70,611.95 Z" fill="#afafaf"/>
<path d="M342.30,611.95 L342.30,611.95 L342.80,597.00 L343.20,597.00 L343.70,611.95 L343.70,611.95 Z" fill="#afafaf"/>
<path d="M380.80,611.95 L380.80,611.95 L381.30,598.70 L381.70,598.70 L382.20,611.95 L382.20,611.95 Z" fill="#afafaf"/>
<path d="M399.30,611.95 L399.30,611.95 L399.80,593.60 L400.20,593.60 L400.70,611.95 L400.70,611.95 Z" fill="#afafaf"/>
<path d="M414.80,611.95 L414.80,611.95 L415.30,588.50 L415.70,588.50 L416.20,611.95 L416.20,611.95 Z" fill="#afafaf"/>
<path d="M437.90,611.95 L437.90,611.95 L438.40,588.80 L438.80,588.80 L439.30,611.95 L439.30,611.95 Z" fill="#afafaf"/>
<path d="M532.30,611.95 L532.30,611.95 L532.80,591.30 L533.20,591.30 L533.70,611.95 L533.70,611.95 Z" fill="#afafaf"/>
<path d="M539.80,611.95 L539.80,611.95 L540.30,587.80 L540.70,587.80 L541.20,611.95 L541.20,611.95 Z" fill="#afafaf"/>
<path d="M561.70,611.95 L561.70,611.95 L562.20,589.00 L562.60,589.00 L563.10,611.95 L563.10,611.95 Z" fill="#afafaf"/>
<path d="M569.30,611.95 L569.30,611.95 L569.80,594.40 L570.20,594.40 L570.70,611.95 L570.70,611.95 Z" fill="#afafaf"/>
<path d="M606.90,611.95 L606.90,611.95 L607.40,601.80 L607.80,601.80 L608.30,611.95 L608.30,611.95 Z" fill="#afafaf"/>
<path d="M616.10,611.95 L616.10,611.95 L616.60,596.50 L617.00,596.50 L617.50,611.95 L617.50,611.95 Z" fill="#afafaf"/>
<path d="M623.80,611.95 L623.80,611.95 L624.30,588.00 L624.70,588.00 L625.20,611.95 L625.20,611.95 Z" fill="#afafaf"/>
<path d="M625.80,611.95 L625.80,611.95 L626.30,589.00 L626.70,589.00 L627.20,611.95 L627.20,611.95 Z" fill="#afafaf"/>
<path d="M645.30,611.95 L645.30,611.95 L645.80,588.60 L646.20,588.60 L646.70,611.95 L646.70,611.95 Z" fill="#afafaf"/>
<path d="M647.80,611.95 L647.80,611.95 L648.30,589.50 L648.70,589.50 L649.20,611.95 L649.20,611.95 Z" fill="#afafaf"/>
<path d="M98.00,611.95 L98.00,616.66 L98.60,614.95 L99.20,617.62 L99.80,616.59 L99.80,611.95 Z" fill="#afafaf"/>
<path d="M100.00,611.95 L100.00,617.03 L100.60,617.75 L101.20,615.95 L101.80,616.06 L102.40,615.99 L103.00,615.23 L103.60,618.24 L104.20,620.89 L104.80,618.92 L104.80,611.95 Z" fill="#afafaf"/>
<path d="M105.00,611.95 L105.00,620.48 L105.60,617.49 L106.20,615.65 L106.80,616.55 L107.40,619.02 L108.00,620.51 L108.60,618.98 L109.20,615.65 L109.80,620.58 L110.40,617.49 L111.00,620.37 L111.60,619.67 L112.20,618.50 L112.80,616.44 L112.80,611.95 Z" fill="#afafaf"/>
<path d="M113.00,611.95 L113.00,614.97 L113.60,615.19 L114.20,617.13 L114.80,615.88 L115.40,615.63 L116.00,616.76 L116.60,615.96 L117.20,616.09 L117.80,615.58 L118.40,617.06 L119.00,616.31 L119.60,617.11 L120.20,615.47 L120.80,616.07 L121.40,616.39 L122.00,616.39 L122.60,615.29 L123.20,617.28 L123.80,617.30 L124.40,616.91 L125.00,616.71 L125.60,615.08 L126.20,615.50 L126.80,616.98 L127.40,615.33 L128.00,616.91 L128.00,611.95 Z" fill="#afafaf"/>
<path d="M128.00,611.95 L128.00,615.23 L128.60,618.67 L129.20,615.56 L129.80,615.84 L130.40,615.55 L131.00,615.02 L131.60,619.15 L132.20,616.20 L132.80,616.16 L133.40,619.31 L134.00,615.85 L134.60,616.52 L135.20,615.69 L135.80,616.23 L136.40,618.36 L137.00,617.12 L137.00,611.95 Z" fill="#afafaf"/>
<path d="M137.00,611.95 L137.00,615.43 L137.60,617.70 L138.20,615.40 L138.80,617.61 L139.40,617.31 L140.00,618.13 L140.60,619.84 L141.20,619.99 L141.80,615.74 L142.40,615.77 L143.00,615.25 L143.60,619.53 L144.20,619.85 L144.80,615.70 L145.40,617.46 L146.00,618.03 L146.60,618.11 L147.20,616.90 L147.80,615.18 L148.40,617.33 L149.00,618.50 L149.60,619.63 L149.60,611.95 Z" fill="#afafaf"/>
<path d="M150.00,611.95 L150.00,616.73 L150.60,615.52 L151.20,615.60 L151.80,616.44 L152.40,620.08 L153.00,621.64 L153.60,619.97 L154.20,619.69 L154.80,617.78 L155.40,620.55 L156.00,620.15 L156.60,615.86 L157.20,617.87 L157.80,618.87 L158.40,616.18 L159.00,615.66 L159.60,619.81 L160.20,617.91 L160.80,619.48 L161.40,615.55 L162.00,618.07 L162.60,617.18 L163.20,615.02 L163.80,617.64 L164.40,615.41 L165.00,618.65 L165.60,620.02 L166.20,619.07 L166.80,617.35 L167.40,615.34 L168.00,619.30 L168.60,618.07 L169.20,617.73 L169.80,618.41 L169.80,611.95 Z" fill="#afafaf"/>
<path d="M170.00,611.95 L170.00,618.35 L170.60,618.77 L171.20,617.37 L171.80,616.64 L172.40,615.66 L173.00,615.65 L173.60,619.18 L174.20,620.54 L174.80,621.49 L175.40,616.34 L176.00,615.86 L176.60,617.43 L177.20,616.22 L177.80,621.66 L178.40,614.97 L179.00,619.48 L179.60,618.05 L179.60,611.95 Z" fill="#afafaf"/>
<path d="M180.00,611.95 L180.00,615.89 L180.60,617.26 L181.20,616.50 L181.80,622.92 L182.40,623.27 L183.00,615.80 L183.00,611.95 Z" fill="#afafaf"/>
<path d="M183.00,611.95 L183.00,615.19 L183.60,615.90 L184.20,615.95 L184.80,621.31 L185.40,615.80 L186.00,623.91 L186.60,618.89 L187.20,620.26 L187.80,615.00 L188.40,619.45 L189.00,615.01 L189.60,623.49 L190.20,622.01 L190.80,615.65 L191.40,618.07 L192.00,617.38 L192.60,617.87 L193.20,623.30 L193.80,617.83 L194.40,621.48 L195.00,621.03 L195.60,618.38 L196.20,623.48 L196.80,615.01 L197.40,619.13 L198.00,615.39 L198.60,623.01 L199.20,616.20 L199.80,620.12 L199.80,611.95 Z" fill="#afafaf"/>
<path d="M200.00,611.95 L200.00,616.72 L200.60,615.57 L201.20,616.89 L201.80,616.61 L202.40,615.76 L203.00,617.64 L203.60,615.27 L204.20,615.21 L204.80,617.14 L205.40,617.46 L206.00,618.80 L206.60,616.78 L207.20,617.34 L207.80,615.67 L208.40,615.14 L209.00,615.10 L209.60,618.59 L210.20,617.71 L210.80,616.12 L211.40,615.63 L212.00,616.49 L212.60,616.35 L213.20,616.92 L213.80,618.61 L214.40,615.22 L215.00,616.45 L215.60,616.53 L216.20,617.97 L216.80,618.51 L217.40,617.83 L218.00,616.20 L218.00,611.95 Z" fill="#afafaf"/>
<path d="M218.00,611.95 L218.00,619.35 L218.60,615.09 L219.20,620.52 L219.80,617.48 L220.40,615.68 L221.00,616.07 L221.60,617.91 L222.20,618.46 L222.80,619.59 L223.40,617.84 L224.00,616.07 L224.60,619.03 L225.20,615.83 L225.80,620.15 L226.40,619.10 L227.00,617.63 L227.60,615.61 L228.20,615.05 L228.80,618.69 L229.40,614.98 L230.00,617.64 L230.60,618.34 L231.20,617.91 L231.80,616.09 L232.40,620.00 L233.00,616.26 L233.60,619.19 L234.20,617.59 L234.80,615.23 L235.40,615.44 L236.00,615.11 L236.60,617.98 L237.20,620.75 L237.80,618.01 L238.40,620.16 L239.00,618.54 L239.60,617.81 L240.20,619.67 L240.80,615.56 L241.40,617.17 L242.00,615.92 L242.60,615.75 L243.20,615.68 L243.80,620.62 L244.40,616.72 L245.00,618.06 L245.60,615.68 L246.20,617.34 L246.80,616.50 L247.40,615.48 L248.00,615.08 L248.60,615.20 L249.20,617.21 L249.80,617.52 L249.80,611.95 Z" fill="#afafaf"/>
<path d="M255.00,611.95 L255.00,616.87 L255.60,614.98 L256.20,618.32 L256.80,617.02 L257.40,618.30 L258.00,615.70 L258.60,615.66 L259.20,618.44 L259.80,615.23 L260.40,615.46 L261.00,615.53 L261.60,615.27 L262.20,615.42 L262.80,615.17 L262.80,611.95 Z" fill="#afafaf"/>
<path d="M268.00,611.95 L268.00,617.56 L268.60,616.71 L269.20,615.53 L269.80,616.61 L270.40,616.83 L271.00,617.65 L271.60,615.28 L272.20,617.16 L272.80,615.55 L272.80,611.95 Z" fill="#afafaf"/>
<path d="M276.00,611.95 L276.00,616.31 L276.60,614.95 L277.20,616.69 L277.80,620.65 L278.40,621.97 L279.00,615.54 L279.60,615.04 L279.60,611.95 Z" fill="#afafaf"/>
<path d="M280.00,611.95 L280.00,616.29 L280.60,614.96 L281.20,615.02 L281.80,615.62 L282.40,615.16 L283.00,615.11 L283.60,616.72 L284.20,615.13 L284.80,618.33 L284.80,611.95 Z" fill="#afafaf"/>
<path d="M285.00,611.95 L285.00,615.00 L285.60,614.97 L286.20,620.94 L286.80,615.96 L287.40,614.96 L287.40,611.95 Z" fill="#afafaf"/>
<path d="M288.00,611.95 L288.00,616.34 L288.60,616.02 L289.20,616.75 L289.80,616.24 L290.40,615.81 L291.00,616.45 L291.60,618.59 L292.20,615.04 L292.80,617.49 L293.40,615.70 L294.00,614.97 L294.60,617.69 L295.20,617.78 L295.80,615.10 L296.40,615.27 L297.00,616.68 L297.60,615.54 L298.20,615.87 L298.80,617.71 L299.40,618.48 L299.40,611.95 Z" fill="#afafaf"/>
<path d="M300.00,611.95 L300.00,622.39 L300.60,617.68 L301.20,620.01 L301.80,617.85 L302.40,617.45 L303.00,615.94 L303.60,615.74 L304.20,622.50 L304.80,620.87 L305.40,619.06 L306.00,618.01 L306.60,615.21 L307.20,617.18 L307.80,620.66 L308.40,616.34 L309.00,624.82 L309.60,615.21 L310.20,623.25 L310.80,621.20 L311.40,620.65 L312.00,615.42 L312.60,621.76 L313.20,624.08 L313.80,620.61 L314.40,615.35 L314.40,611.95 Z" fill="#afafaf"/>
<path d="M315.00,611.95 L315.00,615.26 L315.60,617.47 L316.20,616.71 L316.80,616.77 L317.40,617.26 L317.40,611.95 Z" fill="#afafaf"/>
<path d="M318.00,611.95 L318.00,615.90 L318.60,615.87 L319.20,615.82 L319.80,616.10 L320.40,615.64 L321.00,616.25 L321.60,615.20 L322.20,616.33 L322.80,617.31 L323.40,616.48 L324.00,616.49 L324.60,615.92 L325.20,617.22 L325.80,615.79 L326.40,616.26 L327.00,616.00 L327.60,615.92 L328.20,617.72 L328.80,617.48 L329.40,615.75 L330.00,615.55 L330.60,615.36 L331.20,616.95 L331.80,616.12 L332.40,617.72 L333.00,616.64 L333.60,615.37 L334.20,615.60 L334.80,616.34 L335.40,617.24 L336.00,617.36 L336.60,615.15 L337.20,617.06 L337.80,616.89 L338.40,616.59 L339.00,615.72 L339.60,617.65 L340.20,616.52 L340.80,614.97 L341.40,616.70 L342.00,615.30 L342.60,614.97 L343.20,615.04 L343.80,616.35 L344.40,614.98 L345.00,616.38 L345.60,615.66 L346.20,615.57 L346.80,614.97 L346.80,611.95 Z" fill="#afafaf"/>
<path d="M355.00,611.95 L355.00,616.66 L355.60,619.59 L356.20,624.83 L356.80,624.41 L357.40,622.17 L357.40,611.95 Z" fill="#afafaf"/>
<path d="M358.00,611.95 L358.00,618.80 L358.60,616.33 L359.20,615.74 L359.80,615.29 L360.40,616.95 L361.00,615.53 L361.60,615.46 L362.20,616.05 L362.80,616.58 L363.40,618.84 L364.00,616.49 L364.60,615.79 L365.20,618.37 L365.80,618.34 L366.40,619.33 L367.00,617.21 L367.60,615.54 L368.20,620.38 L368.80,615.72 L369.40,616.37 L370.00,618.80 L370.60,615.88 L371.20,614.96 L371.80,619.24 L372.40,618.25 L373.00,618.37 L373.60,615.22 L374.20,615.03 L374.80,618.29 L375.40,615.17 L375.40,611.95 Z" fill="#afafaf"/>
<path d="M376.00,611.95 L376.00,620.57 L376.60,615.48 L377.20,618.64 L377.80,622.41 L378.40,616.72 L379.00,617.52 L379.60,615.02 L379.60,611.95 Z" fill="#afafaf"/>
<path d="M380.00,611.95 L380.00,616.90 L380.60,618.85 L381.20,616.65 L381.80,615.05 L382.40,615.34 L383.00,615.91 L383.60,616.07 L384.20,616.82 L384.80,618.18 L385.40,615.19 L386.00,617.51 L386.60,617.81 L387.20,614.96 L387.80,617.01 L388.40,618.06 L389.00,618.68 L389.60,617.43 L390.20,614.99 L390.80,615.30 L391.40,617.65 L392.00,619.00 L392.60,615.26 L393.20,618.22 L393.80,617.78 L394.40,617.13 L395.00,615.70 L395.60,615.49 L396.20,615.08 L396.80,615.20 L397.40,615.65 L398.00,615.22 L398.60,614.99 L399.20,616.45 L399.80,617.08 L399.80,611.95 Z" fill="#afafaf"/>
<path d="M400.00,611.95 L400.00,616.47 L400.60,615.13 L401.20,616.90 L401.80,618.10 L402.40,616.99 L403.00,615.13 L403.60,617.79 L404.20,615.17 L404.80,616.09 L405.40,614.95 L406.00,615.29 L406.60,615.86 L407.20,618.32 L407.80,615.05 L408.40,618.07 L409.00,616.78 L409.60,615.64 L409.60,611.95 Z" fill="#afafaf"/>
<path d="M412.00,611.95 L412.00,615.15 L412.60,618.39 L413.20,619.38 L413.80,615.67 L414.40,615.34 L415.00,616.05 L415.60,618.65 L415.60,611.95 Z" fill="#afafaf"/>
<path d="M423.00,611.95 L423.00,618.27 L423.60,616.26 L424.20,617.62 L424.80,617.89 L425.40,615.15 L426.00,615.59 L426.60,614.96 L427.20,615.43 L427.80,614.97 L428.40,617.17 L429.00,617.87 L429.60,616.04 L430.20,615.04 L430.80,618.16 L431.40,618.33 L432.00,617.73 L432.60,616.27 L433.20,617.50 L433.80,616.63 L434.40,615.79 L435.00,615.19 L435.60,617.61 L436.20,617.99 L436.80,616.59 L437.40,615.47 L438.00,616.99 L438.60,615.14 L439.20,617.08 L439.80,615.01 L440.40,614.95 L441.00,617.65 L441.60,615.11 L442.20,615.49 L442.80,615.06 L443.40,618.29 L444.00,616.06 L444.60,615.03 L445.20,617.12 L445.80,615.04 L446.40,618.86 L447.00,615.80 L447.60,614.99 L448.20,617.23 L448.80,617.43 L449.40,615.47 L449.40,611.95 Z" fill="#afafaf"/>
<path d="M450.00,611.95 L450.00,617.45 L450.60,616.55 L451.20,618.05 L451.80,618.46 L452.40,615.40 L453.00,619.43 L453.60,618.58 L454.20,615.70 L454.80,618.71 L455.40,615.20 L456.00,617.67 L456.60,618.26 L457.20,615.13 L457.80,614.97 L458.40,616.02 L459.00,617.65 L459.60,617.76 L460.20,617.17 L460.80,615.66 L461.40,615.27 L462.00,616.81 L462.60,616.62 L463.20,615.14 L463.80,615.46 L464.40,618.86 L465.00,618.56 L465.60,618.06 L466.20,618.82 L466.80,617.89 L467.40,615.49 L468.00,619.23 L468.60,615.40 L469.20,618.59 L469.80,618.56 L470.40,615.39 L471.00,619.00 L471.60,616.54 L472.20,617.16 L472.80,615.16 L473.40,618.47 L474.00,619.36 L474.60,614.96 L475.20,617.72 L475.80,619.59 L476.40,619.38 L477.00,618.48 L477.60,616.50 L477.60,611.95 Z" fill="#afafaf"/>
<path d="M478.00,611.95 L478.00,617.21 L478.60,615.59 L479.20,615.27 L479.80,616.00 L480.40,616.43 L481.00,615.06 L481.60,616.07 L482.20,615.26 L482.80,615.06 L483.40,615.30 L484.00,617.13 L484.60,615.98 L485.20,615.62 L485.80,617.34 L486.40,617.37 L487.00,616.06 L487.60,614.99 L488.20,618.47 L488.80,616.03 L489.40,616.81 L490.00,615.22 L490.60,616.56 L491.20,616.98 L491.80,616.31 L492.40,615.38 L493.00,617.34 L493.60,614.95 L494.20,615.28 L494.80,618.14 L495.40,617.63 L496.00,617.33 L496.60,617.46 L496.60,611.95 Z" fill="#afafaf"/>
<path d="M497.00,611.95 L497.00,624.12 L497.60,623.89 L498.20,614.98 L498.80,617.09 L499.40,620.14 L500.00,615.46 L500.60,622.24 L501.20,624.80 L501.80,620.59 L502.40,615.13 L503.00,621.50 L503.60,616.18 L504.20,622.91 L504.80,623.45 L505.40,619.27 L506.00,619.77 L506.60,617.13 L507.20,623.55 L507.80,617.59 L508.40,620.14 L509.00,618.83 L509.60,616.08 L510.20,622.08 L510.80,618.22 L511.40,617.24 L512.00,615.85 L512.60,622.12 L513.20,619.07 L513.80,615.44 L514.40,623.80 L515.00,615.84 L515.60,616.24 L515.60,611.95 Z" fill="#afafaf"/>
<path d="M516.00,611.95 L516.00,623.04 L516.60,615.83 L517.20,620.42 L517.80,618.54 L518.40,620.81 L519.00,623.47 L519.60,623.48 L520.20,622.13 L520.80,621.48 L521.40,619.38 L522.00,621.60 L522.60,622.59 L523.20,622.88 L523.80,615.64 L523.80,611.95 Z" fill="#afafaf"/>
<path d="M530.00,611.95 L530.00,615.61 L530.60,617.12 L531.20,616.52 L531.80,617.87 L532.40,617.27 L533.00,615.45 L533.60,618.74 L534.20,616.16 L534.80,619.47 L534.80,611.95 Z" fill="#afafaf"/>
<path d="M535.00,611.95 L535.00,616.74 L535.60,618.94 L536.20,616.66 L536.80,615.54 L537.40,615.82 L538.00,618.38 L538.60,615.01 L539.20,616.03 L539.80,618.48 L540.40,615.55 L541.00,616.42 L541.60,614.99 L542.20,615.05 L542.80,619.89 L543.40,619.00 L544.00,617.23 L544.60,615.32 L545.20,615.51 L545.80,616.38 L546.40,616.30 L547.00,615.96 L547.60,618.72 L548.20,614.99 L548.80,618.00 L549.40,618.75 L550.00,616.46 L550.60,615.08 L550.60,611.95 Z" fill="#afafaf"/>
<path d="M551.00,611.95 L551.00,619.12 L551.60,618.95 L552.20,616.06 L552.80,618.25 L553.40,618.55 L553.40,611.95 Z" fill="#afafaf"/>
<path d="M557.00,611.95 L557.00,615.34 L557.60,617.37 L558.20,618.89 L558.80,619.69 L559.40,617.11 L560.00,617.11 L560.60,616.98 L561.20,620.74 L561.80,615.36 L562.40,615.44 L563.00,615.90 L563.60,615.20 L564.20,616.20 L564.80,616.18 L565.40,615.36 L565.40,611.95 Z" fill="#afafaf"/>
<path d="M566.00,611.95 L566.00,614.96 L566.60,621.60 L567.20,616.79 L567.80,621.11 L568.40,619.71 L569.00,616.63 L569.60,615.19 L570.20,620.42 L570.80,621.22 L571.40,616.63 L572.00,618.01 L572.60,615.98 L573.20,616.97 L573.80,617.77 L574.40,616.99 L574.40,611.95 Z" fill="#afafaf"/>
<path d="M581.00,611.95 L581.00,615.32 L581.60,616.00 L582.20,616.39 L582.80,616.06 L583.40,617.78 L584.00,615.42 L584.60,618.00 L585.20,616.59 L585.80,616.64 L586.40,616.71 L587.00,616.09 L587.60,616.35 L588.20,617.95 L588.80,616.48 L589.40,615.42 L590.00,617.69 L590.60,615.77 L590.60,611.95 Z" fill="#afafaf"/>
<path d="M595.00,611.95 L595.00,615.08 L595.60,616.05 L596.20,616.40 L596.80,616.75 L597.40,615.74 L598.00,615.24 L598.60,614.99 L599.20,616.65 L599.80,615.22 L600.40,617.87 L601.00,615.33 L601.60,614.95 L602.20,615.99 L602.80,615.27 L603.40,615.97 L604.00,616.32 L604.60,615.60 L605.20,615.84 L605.80,616.17 L605.80,611.95 Z" fill="#afafaf"/>
<path d="M613.00,611.95 L613.00,615.18 L613.60,616.83 L614.20,616.28 L614.80,615.04 L615.40,616.48 L616.00,617.81 L616.60,617.96 L617.20,615.87 L617.80,617.86 L618.40,615.05 L619.00,616.82 L619.60,618.38 L619.60,611.95 Z" fill="#afafaf"/>
<path d="M624.00,611.95 L624.00,615.44 L624.60,615.68 L625.20,615.04 L625.80,615.30 L626.40,616.67 L627.00,615.08 L627.60,616.28 L628.20,615.92 L628.80,614.97 L629.40,615.06 L630.00,615.59 L630.60,615.09 L631.20,615.94 L631.80,615.71 L632.40,614.98 L633.00,616.44 L633.60,615.14 L634.20,615.67 L634.80,615.58 L635.40,616.66 L636.00,615.35 L636.60,615.08 L637.20,616.62 L637.80,616.53 L638.40,615.40 L639.00,616.58 L639.60,616.03 L640.20,616.22 L640.80,615.04 L641.40,615.46 L642.00,615.34 L642.60,616.64 L643.20,616.51 L643.80,615.32 L644.40,616.18 L645.00,614.96 L645.60,615.63 L646.20,615.55 L646.80,615.16 L647.40,615.22 L648.00,616.60 L648.60,615.04 L649.20,616.14 L649.80,615.02 L650.40,615.92 L651.00,616.71 L651.60,615.65 L652.20,615.47 L652.80,614.96 L653.40,615.67 L654.00,615.21 L654.60,615.20 L655.20,615.21 L655.80,615.86 L656.40,615.41 L657.00,615.18 L657.60,615.88 L658.20,616.08 L658.80,615.25 L659.40,615.97 L660.00,614.97 L660.60,616.45 L660.60,611.95 Z" fill="#afafaf"/>
<path d="M151.70,611.95 L151.70,611.95 L152.30,624.40 L152.70,624.40 L153.30,611.95 L153.30,611.95 Z" fill="#afafaf"/>
<path d="M171.60,611.95 L171.60,611.95 L172.20,622.00 L172.60,622.00 L173.20,611.95 L173.20,611.95 Z" fill="#afafaf"/>
<path d="M225.20,611.95 L225.20,611.95 L225.80,625.20 L226.20,625.20 L226.80,611.95 L226.80,611.95 Z" fill="#afafaf"/>
<path d="M375.20,611.95 L375.20,611.95 L375.80,622.80 L376.20,622.80 L376.80,611.95 L376.80,611.95 Z" fill="#afafaf"/>
<path d="M118.60,611.95 L118.60,611.95 L118.90,581.10 L120.40,581.10 L120.80,611.95 L120.80,611.95 Z" fill="#ff2300"/>
<path d="M121.40,611.95 L121.40,611.95 L121.70,586.00 L122.20,586.00 L122.50,611.95 L122.50,611.95 Z" fill="#ff2300"/>
<path d="M124.20,611.95 L124.20,611.95 L124.50,586.00 L125.00,586.00 L125.30,611.95 L125.30,611.95 Z" fill="#ff2300"/>
<path d="M125.50,611.95 L125.50,611.95 L125.80,581.10 L126.50,581.10 L126.80,611.95 L126.80,611.95 Z" fill="#ff2300"/>
<path d="M294.30,611.95 L294.30,611.95 L294.80,581.30 L295.60,581.30 L296.10,611.95 L296.10,611.95 Z" fill="#ff2300"/>
<path d="M354.60,611.95 L354.60,611.95 L354.70,562.80 L355.40,562.80 L355.50,570.60 L356.10,570.60 L356.20,611.95 L356.20,611.95 Z" fill="#ff2300"/>
<path d="M357.70,611.95 L357.70,611.95 L357.90,585.00 L358.60,585.00 L358.80,611.95 L358.80,611.95 Z" fill="#ff2300"/>
<path d="M359.90,611.95 L359.90,611.95 L360.00,582.30 L362.00,580.70 L363.50,579.20 L365.00,575.30 L366.50,565.10 L367.50,569.00 L369.00,562.80 L370.50,562.00 L371.00,540.00 L371.30,535.70 L371.90,536.40 L372.30,560.00 L372.60,569.00 L374.00,563.60 L375.00,563.10 L375.30,611.95 L375.30,611.95 Z" fill="#ff2300"/>
<line x1="426.4" y1="611.95" x2="426.4" y2="568.7" stroke="#ff2300" stroke-width="0.9"/>
<path d="M450.60,611.95 L450.60,611.95 L451.00,581.00 L451.90,581.00 L452.30,611.95 L452.30,611.95 Z" fill="#ff2300"/>
<path d="M454.60,611.95 L454.60,611.95 L455.00,572.30 L455.90,572.30 L456.30,611.95 L456.30,611.95 Z" fill="#ff2300"/>
<path d="M479.00,611.95 L479.00,611.95 L479.10,560.00 L479.30,545.60 L480.20,530.00 L480.50,506.30 L481.00,506.30 L481.30,530.00 L481.60,560.00 L481.90,576.00 L483.30,582.30 L483.90,586.20 L484.20,586.50 L485.40,585.40 L486.20,583.80 L486.90,585.00 L487.30,585.50 L488.30,562.00 L488.90,561.20 L489.40,570.60 L490.40,571.40 L491.20,585.40 L492.80,585.40 L493.50,580.00 L494.30,571.40 L495.10,573.00 L496.30,573.00 L496.70,611.95 L496.70,611.95 Z" fill="#ff2300"/>
<rect x="484.3" y="575" width="0.80" height="36.95" fill="#fff" fill-opacity="0.5"/>
<rect x="487.3" y="575" width="0.70" height="36.95" fill="#fff" fill-opacity="0.5"/>
<rect x="491.6" y="575" width="0.80" height="36.95" fill="#fff" fill-opacity="0.5"/>
<path d="M557.70,611.95 L557.70,611.95 L558.30,543.80 L558.90,543.80 L559.50,611.95 L559.50,611.95 Z" fill="#ff2300"/>
<path d="M595.50,611.95 L595.50,611.95 L595.60,583.40 L596.30,583.00 L596.80,500.00 L597.40,482.60 L597.90,483.00 L598.60,495.00 L599.80,510.00 L600.10,575.50 L601.50,577.50 L602.50,578.10 L603.50,582.00 L603.90,611.95 L603.90,611.95 Z" fill="#ff2300"/>
<path d="M92.10,611.95 L92.10,611.95 L92.30,641.50 L93.00,646.40 L94.20,650.10 L95.40,651.90 L96.60,653.80 L97.20,655.00 L97.90,643.90 L98.10,619.30 L98.50,611.95 L98.50,611.95 Z" fill="#0028ff"/>
<line x1="100.9" y1="611.95" x2="100.9" y2="637.8" stroke="#0028ff" stroke-width="0.9" stroke-opacity="0.45"/>
<path d="M105.20,611.95 L105.20,611.95 L105.60,625.00 L106.40,630.40 L107.30,626.00 L107.70,611.95 L107.70,611.95 Z" fill="#0028ff"/>
<path d="M109.20,611.95 L109.20,611.95 L109.50,629.10 L110.50,629.10 L110.80,611.95 L110.80,611.95 Z" fill="#0028ff"/>
<path d="M112.00,611.95 L112.00,611.95 L112.30,629.80 L113.60,629.80 L113.90,611.95 L113.90,611.95 Z" fill="#0028ff"/>
<path d="M191.00,611.95 L191.00,611.95 L191.30,627.50 L193.10,627.50 L193.40,611.95 L193.40,611.95 Z" fill="#0028ff"/>
<line x1="194" y1="611.95" x2="194" y2="648.2" stroke="#0028ff" stroke-width="0.9" stroke-opacity="0.6"/>
<line x1="214.8" y1="611.95" x2="214.8" y2="651.9" stroke="#0028ff" stroke-width="0.9" stroke-opacity="0.6"/>
<line x1="236.2" y1="611.95" x2="236.2" y2="678.5" stroke="#0028ff" stroke-width="0.9" stroke-opacity="0.6"/>
<path d="M251.40,611.95 L251.40,611.95 L252.60,637.50 L253.20,637.50 L254.20,611.95 L254.20,611.95 Z" fill="#0028ff"/>
<path d="M264.00,611.95 L264.00,611.95 L264.30,628.10 L267.00,628.10 L267.30,611.95 L267.30,611.95 Z" fill="#0028ff"/>
<line x1="265.6" y1="611.95" x2="265.6" y2="656" stroke="#0028ff" stroke-width="0.9" stroke-opacity="0.6"/>
<path d="M273.00,611.95 L273.00,611.95 L273.30,632.00 L274.50,640.50 L275.00,634.70 L276.00,625.00 L276.20,611.95 L276.20,611.95 Z" fill="#0028ff"/>
<line x1="288.3" y1="611.95" x2="288.3" y2="630.6" stroke="#0028ff" stroke-width="0.9" stroke-opacity="0.6"/>
<line x1="317.4" y1="611.95" x2="317.4" y2="661.8" stroke="#0028ff" stroke-width="0.9" stroke-opacity="0.6"/>
<line x1="339.3" y1="611.95" x2="339.3" y2="630.4" stroke="#0028ff" stroke-width="0.9" stroke-opacity="0.6"/>
<path d="M347.90,611.95 L347.90,611.95 L348.00,653.90 L349.40,653.90 L350.00,650.00 L351.50,647.10 L352.20,648.10 L353.00,644.30 L354.00,632.80 L354.70,629.00 L355.10,611.95 L355.10,611.95 Z" fill="#0028ff"/>
<line x1="349.2" y1="611.95" x2="349.2" y2="667.7" stroke="#0028ff" stroke-width="0.9" stroke-opacity="0.6"/>
<line x1="410.9" y1="611.95" x2="410.9" y2="633" stroke="#0028ff" stroke-width="0.9" stroke-opacity="0.5"/>
<path d="M417.00,611.95 L417.00,611.95 L417.30,629.30 L418.00,629.30 L418.30,611.95 L418.30,611.95 Z" fill="#0028ff"/>
<path d="M419.20,611.95 L419.20,611.95 L419.50,628.00 L420.20,628.00 L420.50,611.95 L420.50,611.95 Z" fill="#0028ff"/>
<path d="M421.30,611.95 L421.30,611.95 L421.60,629.30 L422.30,629.30 L422.60,611.95 L422.60,611.95 Z" fill="#0028ff"/>
<line x1="445.6" y1="611.95" x2="445.6" y2="627.2" stroke="#0028ff" stroke-width="0.9" stroke-opacity="0.6"/>
<line x1="453.2" y1="611.95" x2="453.2" y2="627.2" stroke="#0028ff" stroke-width="1.1" stroke-opacity="0.8"/>
<line x1="467.5" y1="611.95" x2="467.5" y2="626.4" stroke="#0028ff" stroke-width="0.9" stroke-opacity="0.6"/>
<line x1="500.4" y1="611.95" x2="500.4" y2="631.4" stroke="#0028ff" stroke-width="1.1" stroke-opacity="0.8"/>
<path d="M524.00,611.95 L524.00,611.95 L524.30,627.50 L526.00,627.50 L526.30,611.95 L526.30,611.95 Z" fill="#0028ff" fill-opacity="0.8"/>
<line x1="527.5" y1="611.95" x2="527.5" y2="627.5" stroke="#0028ff" stroke-width="0.9" stroke-opacity="0.6"/>
<line x1="528.8" y1="611.95" x2="528.8" y2="640.7" stroke="#0028ff" stroke-width="0.9" stroke-opacity="0.6"/>
<line x1="536.3" y1="611.95" x2="536.3" y2="706.3" stroke="#0028ff" stroke-width="0.9" stroke-opacity="0.6"/>
<line x1="549.5" y1="611.95" x2="549.5" y2="638" stroke="#0028ff" stroke-width="0.9" stroke-opacity="0.6"/>
<path d="M553.90,611.95 L553.90,611.95 L554.20,626.40 L556.40,626.40 L556.80,611.95 L556.80,611.95 Z" fill="#0028ff"/>
<line x1="567.1" y1="611.95" x2="567.1" y2="626.4" stroke="#0028ff" stroke-width="0.9" stroke-opacity="0.6"/>
<path d="M575.00,611.95 L575.00,611.95 L575.30,630.80 L576.50,632.00 L578.00,631.50 L579.50,630.50 L580.50,628.00 L580.90,611.95 L580.90,611.95 Z" fill="#0028ff"/>
<line x1="575.6" y1="611.95" x2="575.6" y2="651.6" stroke="#0028ff" stroke-width="1.0" stroke-opacity="0.7"/>
<path d="M578.20,611.95 L578.20,611.95 L578.40,635.00 L579.20,640.00 L580.20,640.00 L580.80,636.00 L581.00,611.95 L581.00,611.95 Z" fill="#0028ff"/>
<path d="M591.80,611.95 L591.80,611.95 L592.10,627.50 L594.80,627.50 L595.10,611.95 L595.10,611.95 Z" fill="#0028ff"/>
<line x1="594.7" y1="611.95" x2="594.7" y2="681.2" stroke="#0028ff" stroke-width="0.9" stroke-opacity="0.5"/>
<path d="M605.80,611.95 L605.80,611.95 L606.00,642.80 L606.80,640.00 L608.00,630.00 L610.00,625.00 L612.00,622.00 L612.60,611.95 L612.60,611.95 Z" fill="#0028ff"/>
<path d="M620.30,611.95 L620.30,611.95 L620.60,633.00 L622.80,628.00 L623.10,611.95 L623.10,611.95 Z" fill="#0028ff"/>
<rect x="91.60" y="609.20" width="45.89" height="5.50" fill="#000" stroke="#000" stroke-width="0.6"/>
<text x="114.54" y="614.45" font-size="7.1" text-anchor="middle" fill="#eee">1</text>
<rect x="137.49" y="609.20" width="44.77" height="5.50" fill="#fff" stroke="#000" stroke-width="0.6"/>
<text x="159.87" y="614.45" font-size="7.1" text-anchor="middle" fill="#222">2</text>
<rect x="182.26" y="609.20" width="36.45" height="5.50" fill="#000" stroke="#000" stroke-width="0.6"/>
<text x="200.49" y="614.45" font-size="7.1" text-anchor="middle" fill="#eee">3</text>
<rect x="218.71" y="609.20" width="35.19" height="5.50" fill="#fff" stroke="#000" stroke-width="0.6"/>
<text x="236.31" y="614.45" font-size="7.1" text-anchor="middle" fill="#222">4</text>
<rect x="253.90" y="609.20" width="33.31" height="5.50" fill="#000" stroke="#000" stroke-width="0.6"/>
<text x="270.56" y="614.45" font-size="7.1" text-anchor="middle" fill="#eee">5</text>
<rect x="287.21" y="609.20" width="31.50" height="5.50" fill="#fff" stroke="#000" stroke-width="0.6"/>
<text x="302.96" y="614.45" font-size="7.1" text-anchor="middle" fill="#222">6</text>
<rect x="318.71" y="609.20" width="29.30" height="5.50" fill="#000" stroke="#000" stroke-width="0.6"/>
<text x="333.36" y="614.45" font-size="7.1" text-anchor="middle" fill="#eee">7</text>
<rect x="348.01" y="609.20" width="26.94" height="5.50" fill="#fff" stroke="#000" stroke-width="0.6"/>
<text x="361.48" y="614.45" font-size="7.1" text-anchor="middle" fill="#222">8</text>
<rect x="374.95" y="609.20" width="26.00" height="5.50" fill="#000" stroke="#000" stroke-width="0.6"/>
<text x="387.95" y="614.45" font-size="7.1" text-anchor="middle" fill="#eee">9</text>
<rect x="400.95" y="609.20" width="24.95" height="5.50" fill="#fff" stroke="#000" stroke-width="0.6"/>
<text x="413.42" y="614.45" font-size="7.1" text-anchor="middle" fill="#222">10</text>
<rect x="425.90" y="609.20" width="24.85" height="5.50" fill="#000" stroke="#000" stroke-width="0.6"/>
<text x="438.33" y="614.45" font-size="7.1" text-anchor="middle" fill="#eee">11</text>
<rect x="450.75" y="609.20" width="24.64" height="5.50" fill="#fff" stroke="#000" stroke-width="0.6"/>
<text x="463.08" y="614.45" font-size="7.1" text-anchor="middle" fill="#222">12</text>
<rect x="475.40" y="609.20" width="21.20" height="5.50" fill="#000" stroke="#000" stroke-width="0.6"/>
<text x="486.00" y="614.45" font-size="7.1" text-anchor="middle" fill="#eee">13</text>
<rect x="496.60" y="609.20" width="19.76" height="5.50" fill="#fff" stroke="#000" stroke-width="0.6"/>
<text x="506.48" y="614.45" font-size="7.1" text-anchor="middle" fill="#222">14</text>
<rect x="516.36" y="609.20" width="18.88" height="5.50" fill="#000" stroke="#000" stroke-width="0.6"/>
<text x="525.80" y="614.45" font-size="7.1" text-anchor="middle" fill="#eee">15</text>
<rect x="535.24" y="609.20" width="16.63" height="5.50" fill="#fff" stroke="#000" stroke-width="0.6"/>
<text x="543.55" y="614.45" font-size="7.1" text-anchor="middle" fill="#222">16</text>
<rect x="551.87" y="609.20" width="14.95" height="5.50" fill="#000" stroke="#000" stroke-width="0.6"/>
<text x="559.34" y="614.45" font-size="7.1" text-anchor="middle" fill="#eee">17</text>
<rect x="566.82" y="609.20" width="14.37" height="5.50" fill="#fff" stroke="#000" stroke-width="0.6"/>
<text x="574.00" y="614.45" font-size="7.1" text-anchor="middle" fill="#222">18</text>
<rect x="581.19" y="609.20" width="10.89" height="5.50" fill="#000" stroke="#000" stroke-width="0.6"/>
<text x="586.63" y="614.45" font-size="7.1" text-anchor="middle" fill="#eee">19</text>
<rect x="592.08" y="609.20" width="11.60" height="5.50" fill="#fff" stroke="#000" stroke-width="0.6"/>
<text x="597.88" y="614.45" font-size="7.1" text-anchor="middle" fill="#222">20</text>
<rect x="603.68" y="609.20" width="8.86" height="5.50" fill="#000" stroke="#000" stroke-width="0.6"/>
<text x="608.11" y="614.45" font-size="7.1" text-anchor="middle" fill="#eee">21</text>
<rect x="612.54" y="609.20" width="9.44" height="5.50" fill="#fff" stroke="#000" stroke-width="0.6"/>
<text x="617.26" y="614.45" font-size="7.1" text-anchor="middle" fill="#222">22</text>
<rect x="621.99" y="609.20" width="28.58" height="5.50" fill="#000" stroke="#000" stroke-width="0.6"/>
<text x="636.28" y="614.45" font-size="7.1" text-anchor="middle" fill="#eee">X</text>
<rect x="650.57" y="609.20" width="10.93" height="5.50" fill="#fff" stroke="#000" stroke-width="0.6"/>
<text x="656.04" y="614.45" font-size="7.1" text-anchor="middle" fill="#222">Y</text>
<text x="83.1" y="486.9" font-size="20.5" font-weight="bold" textLength="58.4" lengthAdjust="spacingAndGlyphs">READ</text>
<text x="-0.8" y="471.5" font-size="24.8" font-weight="bold">C</text>
<text transform="translate(21.7,592.8) rotate(-90)" font-size="18.2" text-anchor="middle">G-Score</text>
<text x="348.50" y="249.4" font-size="15.4" fill="#000" textLength="54.90" lengthAdjust="spacingAndGlyphs">8p11.23</text><line x1="349" y1="251.9" x2="402.9" y2="251.9" stroke="#000" stroke-width="1.9"/>
<text x="419.10" y="260.3" font-size="15.4" fill="#000" textLength="62.90" lengthAdjust="spacingAndGlyphs">12p13.33</text><line x1="420.3" y1="262.5" x2="482" y2="262.5" stroke="#000" stroke-width="1.9"/>
<text x="460.90" y="227.1" font-size="15.4" fill="#000" textLength="57.20" lengthAdjust="spacingAndGlyphs">13q22.1</text><line x1="462" y1="229.1" x2="515.8" y2="229.1" stroke="#000" stroke-width="1.9"/>
<text x="573.00" y="193.5" font-size="15.4" fill="#00b050" textLength="64.50" lengthAdjust="spacingAndGlyphs">20q11.21</text>
<text x="573.00" y="227.0" font-size="15.4" fill="#000" textLength="63.90" lengthAdjust="spacingAndGlyphs">20p11.21</text><line x1="573.4" y1="229.3" x2="635" y2="229.3" stroke="#000" stroke-width="1.9"/>
<text x="573.00" y="243.9" font-size="15.4" fill="#000" textLength="61.60" lengthAdjust="spacingAndGlyphs">20q13.12</text><line x1="573.4" y1="246" x2="635" y2="246" stroke="#000" stroke-width="1.9"/>
<text x="573.10" y="268.4" font-size="15.4" fill="#000" textLength="62.80" lengthAdjust="spacingAndGlyphs">20p11.23</text><line x1="573.4" y1="270.6" x2="635.2" y2="270.6" stroke="#000" stroke-width="1.9"/>
<text x="561.00" y="282.2" font-size="15.4" fill="#000" textLength="62.50" lengthAdjust="spacingAndGlyphs">19q13.11</text><line x1="561.3" y1="284.4" x2="622.3" y2="284.4" stroke="#000" stroke-width="1.9"/>
<text x="339.90" y="337.8" font-size="15.4" fill="#000" textLength="33.90" lengthAdjust="spacingAndGlyphs">8p22</text><line x1="340.3" y1="339.8" x2="372.8" y2="339.8" stroke="#000" stroke-width="1.9"/>
<text x="398.80" y="339.7" font-size="15.4" fill="#000" textLength="64.80" lengthAdjust="spacingAndGlyphs">10q23.31</text><line x1="400" y1="341.7" x2="461" y2="341.7" stroke="#000" stroke-width="1.9"/>
<text x="483.10" y="327.5" font-size="15.4" fill="#000" textLength="56.40" lengthAdjust="spacingAndGlyphs">15q21.1</text><line x1="484.2" y1="330.1" x2="537.6" y2="330.1" stroke="#000" stroke-width="1.9"/>
<text x="524.30" y="349.7" font-size="15.4" fill="#000" textLength="56.90" lengthAdjust="spacingAndGlyphs">16q23.1</text><line x1="525.5" y1="352.1" x2="578.5" y2="352.1" stroke="#000" stroke-width="1.9"/>
<text x="548.00" y="364.3" font-size="15.4" fill="#000" textLength="54.90" lengthAdjust="spacingAndGlyphs">18q12.2</text><line x1="549.6" y1="366.5" x2="602.5" y2="366.5" stroke="#000" stroke-width="1.9"/>
<text x="606.70" y="321.4" font-size="15.4" fill="#000" textLength="63.20" lengthAdjust="spacingAndGlyphs">22q13.32</text><line x1="607.6" y1="323.7" x2="669" y2="323.7" stroke="#000" stroke-width="1.9"/>
<text x="217.70" y="369.9" font-size="15.4" fill="#00b050" textLength="46.60" lengthAdjust="spacingAndGlyphs">4q22.1</text>
<text x="304.50" y="364.8" font-size="15.4" fill="#00b050" textLength="32.80" lengthAdjust="spacingAndGlyphs">6q26</text>
<text x="574.60" y="379.8" font-size="15.4" fill="#00b050" textLength="55.40" lengthAdjust="spacingAndGlyphs">20p12.1</text>
<text x="508.70" y="419.5" font-size="15.4" fill="#00b050" textLength="53.50" lengthAdjust="spacingAndGlyphs">16p13.3</text>
<text x="424.30" y="566.8" font-size="15.4" fill="#000" textLength="55.50" lengthAdjust="spacingAndGlyphs">12p12.1</text><line x1="424.7" y1="568.7" x2="478.5" y2="568.7" stroke="#000" stroke-width="1.9"/>
<text x="460.80" y="530.7" font-size="15.4" fill="#000" textLength="55.50" lengthAdjust="spacingAndGlyphs">13q12.2</text><line x1="461.7" y1="533" x2="515.6" y2="533" stroke="#000" stroke-width="1.9"/>
<text x="572.20" y="482.2" font-size="15.4" fill="#00b050" textLength="64.80" lengthAdjust="spacingAndGlyphs">20q11.21</text>
<text x="572.20" y="495.3" font-size="15.4" fill="#00b050" textLength="62.90" lengthAdjust="spacingAndGlyphs">20q11.23</text>
<text x="217.10" y="689.2" font-size="15.4" fill="#00b050" textLength="47.00" lengthAdjust="spacingAndGlyphs">4q22.1</text>
<text x="512.80" y="718.4" font-size="15.4" fill="#00b050" textLength="54.00" lengthAdjust="spacingAndGlyphs">16p13.3</text>
<text x="571.90" y="688.8" font-size="15.4" fill="#00b050" textLength="55.70" lengthAdjust="spacingAndGlyphs">20p12.1</text>
</svg>
</body></html>
